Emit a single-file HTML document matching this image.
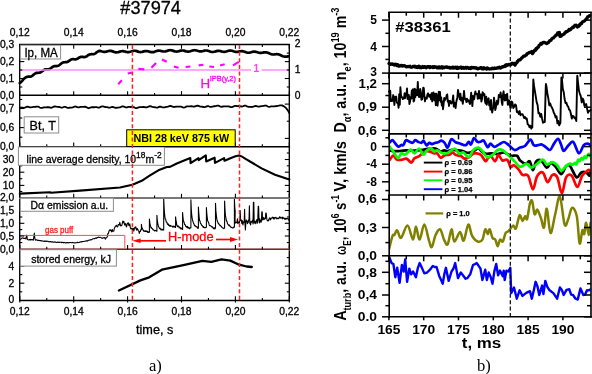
<!DOCTYPE html>
<html><head><meta charset="utf-8"><style>
html,body{margin:0;padding:0;background:#fff;width:592px;height:374px;overflow:hidden}
svg{display:block;will-change:transform}
</style></head><body>
<svg width="592" height="374" viewBox="0 0 592 374">
<rect width="592" height="374" fill="#fff"/>
<text x="120.30" y="13.90" font-family="Liberation Sans, sans-serif" font-size="18.2" font-weight="normal" text-anchor="start" fill="#000" stroke="#000" stroke-width="0.3" >#37974</text>
<text x="19.80" y="36.20" font-family="Liberation Sans, sans-serif" font-size="10.3" font-weight="normal" text-anchor="middle" fill="#000" stroke="#000" stroke-width="0.3" >0,12</text>
<text x="19.80" y="314.80" font-family="Liberation Sans, sans-serif" font-size="10.3" font-weight="normal" text-anchor="middle" fill="#000" stroke="#000" stroke-width="0.3" >0,12</text>
<text x="73.70" y="36.20" font-family="Liberation Sans, sans-serif" font-size="10.3" font-weight="normal" text-anchor="middle" fill="#000" stroke="#000" stroke-width="0.3" >0,14</text>
<text x="73.70" y="314.80" font-family="Liberation Sans, sans-serif" font-size="10.3" font-weight="normal" text-anchor="middle" fill="#000" stroke="#000" stroke-width="0.3" >0,14</text>
<text x="127.60" y="36.20" font-family="Liberation Sans, sans-serif" font-size="10.3" font-weight="normal" text-anchor="middle" fill="#000" stroke="#000" stroke-width="0.3" >0,16</text>
<text x="127.60" y="314.80" font-family="Liberation Sans, sans-serif" font-size="10.3" font-weight="normal" text-anchor="middle" fill="#000" stroke="#000" stroke-width="0.3" >0,16</text>
<text x="181.50" y="36.20" font-family="Liberation Sans, sans-serif" font-size="10.3" font-weight="normal" text-anchor="middle" fill="#000" stroke="#000" stroke-width="0.3" >0,18</text>
<text x="181.50" y="314.80" font-family="Liberation Sans, sans-serif" font-size="10.3" font-weight="normal" text-anchor="middle" fill="#000" stroke="#000" stroke-width="0.3" >0,18</text>
<text x="235.40" y="36.20" font-family="Liberation Sans, sans-serif" font-size="10.3" font-weight="normal" text-anchor="middle" fill="#000" stroke="#000" stroke-width="0.3" >0,20</text>
<text x="235.40" y="314.80" font-family="Liberation Sans, sans-serif" font-size="10.3" font-weight="normal" text-anchor="middle" fill="#000" stroke="#000" stroke-width="0.3" >0,20</text>
<text x="289.30" y="36.20" font-family="Liberation Sans, sans-serif" font-size="10.3" font-weight="normal" text-anchor="middle" fill="#000" stroke="#000" stroke-width="0.3" >0,22</text>
<text x="289.30" y="314.80" font-family="Liberation Sans, sans-serif" font-size="10.3" font-weight="normal" text-anchor="middle" fill="#000" stroke="#000" stroke-width="0.3" >0,22</text>
<path d="M19.80,83.07 L20.60,82.43 L21.40,81.70 L22.20,80.83 L23.00,79.76 L23.80,78.89 L24.60,78.28 L25.40,77.69 L26.20,77.19 L27.00,76.86 L27.80,76.70 L28.60,76.67 L29.40,76.68 L30.20,76.65 L31.00,76.47 L31.80,76.12 L32.60,75.56 L33.40,74.88 L34.20,74.20 L35.00,73.60 L35.80,73.16 L36.60,72.91 L37.40,72.82 L38.20,72.80 L39.00,72.77 L39.80,72.62 L40.60,72.31 L41.40,71.83 L42.20,71.23 L43.00,70.60 L43.80,70.04 L44.60,69.62 L45.40,69.39 L46.20,69.33 L47.00,69.36 L47.80,69.40 L48.60,69.34 L49.40,69.11 L50.20,68.70 L51.00,68.15 L51.80,67.53 L52.60,66.94 L53.40,66.47 L54.20,66.18 L55.00,66.05 L55.80,66.03 L56.60,66.04 L57.40,65.96 L58.20,65.74 L59.00,65.33 L59.80,64.76 L60.60,64.09 L61.40,63.44 L62.20,62.89 L63.00,62.51 L63.80,62.30 L64.60,62.23 L65.40,62.21 L66.20,62.19 L67.00,62.05 L67.80,61.74 L68.60,61.26 L69.40,60.68 L70.20,60.09 L71.00,59.59 L71.80,59.26 L72.60,59.12 L73.40,59.13 L74.20,59.23 L75.00,59.32 L75.80,59.29 L76.60,59.10 L77.40,58.73 L78.20,58.24 L79.00,57.71 L79.80,57.25 L80.60,56.93 L81.40,56.79 L82.20,56.81 L83.00,56.93 L83.80,57.04 L84.60,57.05 L85.40,56.89 L86.20,56.54 L87.00,56.04 L87.80,55.48 L88.60,54.94 L89.40,54.53 L90.20,54.29 L91.00,54.22 L91.80,54.22 L92.60,54.24 L93.40,54.19 L94.20,53.98 L95.00,53.59 L95.80,53.04 L96.60,52.40 L97.40,51.78 L98.20,51.27 L99.00,50.93 L99.80,50.87 L100.60,51.07 L101.40,51.30 L102.20,51.53 L103.00,51.72 L103.80,51.84 L104.60,51.86 L105.40,51.79 L106.20,51.63 L107.00,51.43 L107.80,51.21 L108.60,51.01 L109.40,50.89 L110.20,50.86 L111.00,50.94 L111.80,51.11 L112.60,51.36 L113.40,51.64 L114.20,51.92 L115.00,52.16 L115.80,52.30 L116.60,52.35 L117.40,52.28 L118.20,52.12 L119.00,51.90 L119.80,51.65 L120.60,51.43 L121.40,51.26 L122.20,51.17 L123.00,51.19 L123.80,51.29 L124.60,51.47 L125.40,51.68 L126.20,51.89 L127.00,52.05 L127.80,52.13 L128.60,52.11 L129.40,51.99 L130.20,51.78 L131.00,51.52 L131.80,51.24 L132.60,51.00 L133.40,50.82 L134.20,50.74 L135.00,50.77 L135.80,50.91 L136.60,51.12 L137.40,51.39 L138.20,51.65 L139.00,51.87 L139.80,52.02 L140.60,52.06 L141.40,51.99 L142.20,51.84 L143.00,51.63 L143.80,51.41 L144.60,51.20 L145.40,51.06 L146.20,51.01 L147.00,51.06 L147.80,51.21 L148.60,51.42 L149.40,51.67 L150.20,51.90 L151.00,52.09 L151.80,52.19 L152.60,52.18 L153.40,52.07 L154.20,51.86 L155.00,51.59 L155.80,51.29 L156.60,51.02 L157.40,50.81 L158.20,50.68 L159.00,50.66 L159.80,50.74 L160.60,50.89 L161.40,51.08 L162.20,51.28 L163.00,51.43 L163.80,51.50 L164.60,51.48 L165.40,51.36 L166.20,51.17 L167.00,50.91 L167.80,50.65 L168.60,50.42 L169.40,50.26 L170.20,50.19 L171.00,50.24 L171.80,50.39 L172.60,50.61 L173.40,50.88 L174.20,51.14 L175.00,51.36 L175.80,51.50 L176.60,51.54 L177.40,51.48 L178.20,51.32 L179.00,51.10 L179.80,50.86 L180.60,50.66 L181.40,50.53 L182.20,50.48 L183.00,50.52 L183.80,50.66 L184.60,50.87 L185.40,51.11 L186.20,51.34 L187.00,51.52 L187.80,51.61 L188.60,51.61 L189.40,51.49 L190.20,51.29 L191.00,51.03 L191.80,50.75 L192.60,50.50 L193.40,50.31 L194.20,50.22 L195.00,50.23 L195.80,50.35 L196.60,50.55 L197.40,50.79 L198.20,51.04 L199.00,51.24 L199.80,51.37 L200.60,51.41 L201.40,51.35 L202.20,51.21 L203.00,51.02 L203.80,50.81 L204.60,50.63 L205.40,50.52 L206.20,50.50 L207.00,50.58 L207.80,50.76 L208.60,51.02 L209.40,51.31 L210.20,51.59 L211.00,51.83 L211.80,51.98 L212.60,52.02 L213.40,51.96 L214.20,51.80 L215.00,51.58 L215.80,51.33 L216.60,51.11 L217.40,50.94 L218.20,50.86 L219.00,50.87 L219.80,50.98 L220.60,51.16 L221.40,51.38 L222.20,51.59 L223.00,51.76 L223.80,51.84 L224.60,51.83 L225.40,51.72 L226.20,51.52 L227.00,51.27 L227.80,51.01 L228.60,50.78 L229.40,50.61 L230.20,50.55 L231.00,50.59 L231.80,50.74 L232.60,50.97 L233.40,51.24 L234.20,51.52 L235.00,51.75 L235.80,51.91 L236.60,51.97 L237.40,51.93 L238.20,51.81 L239.00,51.62 L239.80,51.42 L240.60,51.27 L241.40,51.18 L242.20,51.19 L243.00,51.29 L243.80,51.48 L244.60,51.75 L245.40,52.04 L246.20,52.33 L247.00,52.56 L247.80,52.71 L248.60,52.76 L249.40,52.69 L250.20,52.53 L251.00,52.31 L251.80,52.07 L252.60,51.85 L253.40,51.69 L254.20,51.63 L255.00,51.66 L255.80,51.80 L256.60,52.01 L257.40,52.26 L258.20,52.51 L259.00,52.72 L259.80,52.86 L260.60,52.90 L261.40,52.85 L262.20,52.75 L263.00,52.60 L263.80,52.45 L264.60,52.32 L265.40,52.27 L266.20,52.31 L267.00,52.46 L267.80,52.71 L268.60,53.03 L269.40,53.40 L270.20,53.77 L271.00,54.09 L271.80,54.33 L272.60,54.46 L273.40,54.50 L274.20,54.43 L275.00,54.31 L275.80,54.25 L276.60,54.21 L277.40,54.22 L278.20,54.32 L279.00,54.52 L279.80,54.81 L280.60,55.17 L281.40,55.56 L282.20,55.94 L283.00,56.27 L283.80,56.52 L284.60,56.67 L285.40,56.72 L286.20,56.67 L287.00,56.57 L287.80,56.45 L288.60,56.36" fill="none" stroke="#000" stroke-width="2.7" stroke-linejoin="round" stroke-linecap="round" />
<line x1="19.80" y1="70.00" x2="251.00" y2="70.00" stroke="#ff8cff" stroke-width="1.5" />
<line x1="261.50" y1="70.00" x2="289.30" y2="70.00" stroke="#ff8cff" stroke-width="1.5" />
<text x="253.30" y="71.90" font-family="Liberation Sans, sans-serif" font-size="10.6" font-weight="bold" text-anchor="start" fill="#ff44ff" textLength="6.0" lengthAdjust="spacingAndGlyphs" >1</text>
<line x1="118.30" y1="84.30" x2="121.80" y2="80.30" stroke="#ff00ff" stroke-width="2.1" stroke-linecap="butt"/>
<line x1="127.70" y1="73.60" x2="132.50" y2="72.50" stroke="#ff00ff" stroke-width="2.1" stroke-linecap="butt"/>
<line x1="138.40" y1="68.90" x2="144.30" y2="69.40" stroke="#ff00ff" stroke-width="2.1" stroke-linecap="butt"/>
<line x1="151.40" y1="67.70" x2="156.00" y2="63.00" stroke="#ff00ff" stroke-width="2.1" stroke-linecap="butt"/>
<line x1="162.00" y1="59.50" x2="166.70" y2="61.80" stroke="#ff00ff" stroke-width="2.1" stroke-linecap="butt"/>
<line x1="173.80" y1="66.50" x2="178.60" y2="67.70" stroke="#ff00ff" stroke-width="2.1" stroke-linecap="butt"/>
<line x1="185.60" y1="67.00" x2="190.40" y2="66.50" stroke="#ff00ff" stroke-width="2.1" stroke-linecap="butt"/>
<line x1="198.70" y1="65.40" x2="203.40" y2="64.70" stroke="#ff00ff" stroke-width="2.1" stroke-linecap="butt"/>
<line x1="209.30" y1="66.50" x2="214.00" y2="67.00" stroke="#ff00ff" stroke-width="2.1" stroke-linecap="butt"/>
<line x1="220.00" y1="65.40" x2="224.70" y2="64.20" stroke="#ff00ff" stroke-width="2.1" stroke-linecap="butt"/>
<line x1="233.00" y1="65.40" x2="238.80" y2="61.80" stroke="#ff00ff" stroke-width="2.1" stroke-linecap="butt"/>
<text x="200.60" y="87.90" font-family="Liberation Sans, sans-serif" font-size="13.3" font-weight="normal" text-anchor="start" fill="#ff00ff" stroke="#ff00ff" stroke-width="0.3" >H</text>
<text x="209.70" y="81.40" font-family="Liberation Sans, sans-serif" font-size="7.6" font-weight="normal" text-anchor="start" fill="#ff00ff" textLength="26.3" lengthAdjust="spacingAndGlyphs" stroke="#ff00ff" stroke-width="0.3" >IPB(y,2)</text>
<path d="M19.80,107.63 L20.60,107.76 L21.40,107.76 L22.20,107.75 L23.00,107.77 L23.80,107.79 L24.60,107.69 L25.40,107.42 L26.20,107.04 L27.00,106.73 L27.80,106.65 L28.60,106.83 L29.40,107.14 L30.20,107.37 L31.00,107.39 L31.80,107.24 L32.60,107.03 L33.40,106.90 L34.20,106.87 L35.00,106.85 L35.80,106.76 L36.60,106.62 L37.40,106.56 L38.20,106.69 L39.00,107.05 L39.80,107.51 L40.60,107.86 L41.40,107.94 L42.20,107.78 L43.00,107.52 L43.80,107.33 L44.60,107.28 L45.40,107.32 L46.20,107.33 L47.00,107.27 L47.80,107.20 L48.60,107.23 L49.40,107.41 L50.20,107.64 L51.00,107.76 L51.80,107.62 L52.60,107.24 L53.40,106.80 L54.20,106.49 L55.00,106.42 L55.80,106.55 L56.60,106.73 L57.40,106.85 L58.20,106.90 L59.00,106.99 L59.80,107.17 L60.60,107.41 L61.40,107.57 L62.20,107.53 L63.00,107.28 L63.80,106.98 L64.60,106.83 L65.40,106.93 L66.20,107.25 L67.00,107.59 L67.80,107.80 L68.60,107.83 L69.40,107.75 L70.20,107.69 L71.00,107.67 L71.80,107.61 L72.60,107.42 L73.40,107.09 L74.20,106.73 L75.00,106.51 L75.80,106.57 L76.60,106.85 L77.40,107.18 L78.20,107.35 L79.00,107.30 L79.80,107.12 L80.60,106.94 L81.40,106.87 L82.20,106.88 L83.00,106.89 L83.80,106.82 L84.60,106.74 L85.40,106.77 L86.20,107.02 L87.00,107.43 L87.80,107.85 L88.60,108.06 L89.40,107.99 L90.20,107.72 L91.00,107.42 L91.80,107.25 L92.60,107.23 L93.40,107.26 L94.20,107.24 L95.00,107.16 L95.80,107.11 L96.60,107.18 L97.40,107.37 L98.20,107.56 L99.00,107.57 L99.80,107.32 L100.60,106.91 L101.40,106.52 L102.20,106.35 L103.00,106.43 L103.80,106.65 L104.60,106.87 L105.40,107.01 L106.20,107.09 L107.00,107.21 L107.80,107.42 L108.60,107.62 L109.40,107.70 L110.20,107.55 L111.00,107.26 L111.80,106.99 L112.60,106.93 L113.40,107.12 L114.20,107.46 L115.00,107.74 L115.80,107.84 L116.60,107.76 L117.40,107.63 L118.20,107.53 L119.00,107.47 L119.80,107.35 L120.60,107.11 L121.40,106.76 L122.20,106.47 L123.00,106.40 L123.80,106.60 L124.60,106.96 L125.40,107.27 L126.20,107.37 L127.00,107.27 L127.80,107.07 L128.60,106.94 L129.40,106.93 L130.20,106.99 L131.00,107.00 L131.80,106.95 L132.60,106.92 L133.40,107.04 L134.20,107.35 L135.00,107.76 L135.80,108.07 L136.60,108.12 L137.40,107.90 L138.20,107.54 L139.00,107.24 L139.80,107.11 L140.60,107.11 L141.40,107.12 L142.20,107.07 L143.00,106.98 L143.80,106.96 L144.60,107.07 L145.40,107.26 L146.20,107.38 L147.00,107.28 L147.80,106.95 L148.60,106.54 L149.40,106.26 L150.20,106.23 L151.00,106.43 L151.80,106.72 L152.60,106.94 L153.40,107.05 L154.20,107.13 L155.00,107.26 L155.80,107.44 L156.60,107.57 L157.40,107.52 L158.20,107.27 L159.00,106.93 L159.80,106.71 L160.60,106.73 L161.40,106.97 L162.20,107.28 L163.00,107.46 L163.80,107.43 L164.60,107.26 L165.40,107.08 L166.20,106.96 L167.00,106.86 L167.80,106.70 L168.60,106.42 L169.40,106.11 L170.20,105.93 L171.00,106.01 L171.80,106.32 L172.60,106.71 L173.40,106.97 L174.20,106.98 L175.00,106.81 L175.80,106.62 L176.60,106.53 L177.40,106.56 L178.20,106.62 L179.00,106.62 L179.80,106.56 L180.60,106.57 L181.40,106.74 L182.20,107.06 L183.00,107.40 L183.80,107.56 L184.60,107.42 L185.40,107.06 L186.20,106.65 L187.00,106.37 L187.80,106.29 L188.60,106.32 L189.40,106.34 L190.20,106.29 L191.00,106.23 L191.80,106.26 L192.60,106.41 L193.40,106.60 L194.20,106.66 L195.00,106.48 L195.80,106.13 L196.60,105.78 L197.40,105.63 L198.20,105.76 L199.00,106.06 L199.80,106.37 L200.60,106.57 L201.40,106.67 L202.20,106.74 L203.00,106.86 L203.80,107.00 L204.60,107.04 L205.40,106.89 L206.20,106.57 L207.00,106.25 L207.80,106.11 L208.60,106.23 L209.40,106.52 L210.20,106.78 L211.00,106.87 L211.80,106.75 L212.60,106.54 L213.40,106.36 L214.20,106.26 L215.00,106.18 L215.80,106.01 L216.60,105.77 L217.40,105.56 L218.20,105.53 L219.00,105.77 L219.80,106.19 L220.60,106.58 L221.40,106.76 L222.20,106.69 L223.00,106.50 L223.80,106.33 L224.60,106.30 L225.40,106.37 L226.20,106.43 L227.00,106.41 L227.80,106.38 L228.60,106.43 L229.40,106.64 L230.20,106.95 L231.00,107.20 L231.80,107.20 L232.60,106.92 L233.40,106.48 L234.20,106.10 L235.00,105.91 L235.80,105.92 L236.60,106.00 L237.40,106.03 L238.20,106.01 L239.00,106.01 L239.80,106.12 L240.60,106.32 L241.40,106.49 L242.20,106.49 L243.00,106.26 L243.80,105.92 L244.60,105.68 L245.40,105.69 L246.20,105.95 L247.00,106.32 L247.80,106.61 L248.60,106.76 L249.40,106.80 L250.20,106.84 L251.00,106.92 L251.80,106.99 L252.60,106.91 L253.40,106.65 L254.20,106.29 L255.00,106.01 L255.80,105.97 L256.60,106.17 L257.40,106.47 L258.20,106.67 L259.00,106.66 L259.80,106.47 L260.60,106.24 L261.40,106.10 L262.20,106.03 L263.00,105.96 L263.80,105.81 L264.60,105.62 L265.40,105.52 L266.20,105.65 L267.00,106.01 L267.80,106.46 L268.60,106.79 L269.40,106.86 L270.20,106.70 L271.00,106.47 L271.80,106.34 L272.60,106.34 L273.40,106.41 L274.20,106.44 L277.50,106.00 L280.00,105.30 L282.00,105.40 L284.00,106.40 L286.00,108.00 L288.00,110.60 L289.30,113.00" fill="none" stroke="#000" stroke-width="1.8" stroke-linejoin="round" stroke-linecap="round" />
<path d="M19.80,193.60 L50.00,192.30 L51.00,192.80 L80.00,190.60 L120.00,187.50 L132.40,184.80 L141.70,180.80 L150.00,175.40 L158.40,170.30 L166.90,167.00 L170.00,166.90 L176.80,163.50 L183.50,160.80 L190.30,158.00 L190.60,163.10 L198.40,158.10 L198.70,160.20 L205.80,155.40 L206.20,161.50 L214.60,157.70 L215.00,162.90 L224.10,158.10 L224.50,160.80 L231.00,158.00 L235.50,156.20 L239.00,155.40 L242.00,156.60 L246.00,159.20 L250.00,161.50 L261.60,168.40 L275.00,174.80 L289.30,179.50" fill="none" stroke="#000" stroke-width="2.1" stroke-linejoin="round" stroke-linecap="round" />
<path d="M19.80,239.88 L20.30,239.30 L20.80,239.20 L21.30,238.34 L21.80,238.21 L22.30,237.98 L22.80,237.89 L23.30,238.33 L23.80,238.13 L24.30,238.53 L24.80,238.40 L25.30,238.54 L25.80,238.90 L26.30,236.63 L26.80,235.17 L27.30,239.31 L27.80,239.63 L28.30,239.89 L28.80,239.67 L29.30,239.59 L29.80,240.03 L30.30,239.42 L30.80,240.03 L31.30,239.67 L31.80,239.61 L32.30,239.63 L32.80,239.80 L33.30,240.20 L33.80,237.11 L34.30,233.06 L34.80,238.10 L35.30,239.95 L35.80,240.13 L36.30,239.85 L36.80,239.91 L37.30,240.07 L37.80,240.46 L38.30,240.35 L38.80,240.33 L39.30,240.58 L39.80,240.54 L40.30,240.50 L40.80,240.90 L41.30,240.90 L41.80,240.64 L42.30,240.93 L42.80,240.95 L43.30,241.26 L43.80,241.22 L44.30,240.97 L44.80,241.51 L45.30,240.96 L45.80,241.21 L46.30,241.49 L46.80,241.11 L47.30,241.39 L47.80,241.12 L48.30,241.60 L48.80,241.71 L49.30,241.62 L49.80,241.88 L50.30,241.53 L50.80,241.84 L51.30,241.81 L51.80,241.85 L52.30,241.80 L52.80,242.11 L53.30,242.23 L53.80,241.94 L54.30,242.12 L54.80,241.74 L55.30,242.23 L55.80,242.24 L56.30,242.52 L56.80,242.45 L57.30,242.12 L57.80,242.23 L58.30,242.47 L58.80,242.06 L59.30,242.41 L59.80,242.25 L60.30,242.24 L60.80,242.21 L61.30,242.71 L61.80,242.28 L62.30,242.37 L62.80,242.48 L63.30,242.83 L63.80,242.28 L64.30,242.55 L64.80,242.63 L65.30,242.87 L65.80,242.84 L66.30,242.88 L66.80,242.48 L67.30,242.59 L67.80,242.56 L68.30,242.93 L68.80,243.00 L69.30,242.44 L69.80,242.47 L70.30,242.52 L70.80,242.53 L71.30,242.72 L71.80,242.80 L72.30,242.58 L72.80,242.41 L73.30,242.71 L73.80,242.68 L74.30,242.83 L74.80,243.11 L75.30,242.89 L75.80,242.71 L76.30,242.71 L76.80,242.69 L77.30,242.19 L77.80,242.72 L78.30,242.57 L78.80,242.57 L79.30,242.45 L79.80,242.10 L80.30,242.04 L80.80,241.77 L81.30,242.08 L81.80,241.61 L82.30,241.55 L82.80,241.58 L83.30,241.48 L83.80,241.54 L84.30,241.28 L84.80,241.18 L85.30,241.17 L85.80,240.98 L86.30,241.01 L86.80,240.63 L87.30,241.07 L87.80,240.74 L88.30,240.26 L88.80,240.19 L89.30,240.10 L89.80,239.96 L90.30,239.64 L90.80,240.00 L91.30,239.94 L91.80,239.42 L92.30,239.28 L92.80,238.84 L93.30,238.70 L93.80,238.71 L94.30,238.50 L94.80,238.74 L95.30,238.12 L95.80,237.87 L96.30,238.36 L96.80,237.91 L97.30,237.49 L97.80,237.61 L98.30,237.10 L98.80,237.29 L99.30,237.45 L99.80,237.22 L100.30,237.30 L100.80,237.43 L101.30,237.94 L101.80,238.02 L102.30,238.32 L102.80,238.02 L103.30,238.07 L103.80,237.63 L104.30,237.43 L104.80,237.72 L105.30,239.11 L105.80,238.24 L106.30,237.72 L106.80,237.44 L107.30,236.65 L107.80,233.57 L108.30,233.70 L108.80,232.02 L109.30,230.28 L109.80,229.84 L110.30,230.41 L110.80,229.89 L111.30,231.18 L111.80,231.80 L112.30,229.49 L112.80,231.28 L113.30,231.32 L113.80,231.02 L114.30,228.49 L114.80,227.35 L115.30,226.71 L115.80,225.92 L116.30,225.28 L116.80,226.30 L117.30,226.98 L117.80,226.33 L118.30,224.47 L118.80,224.75 L119.30,225.03 L119.80,222.33 L120.30,224.79 L120.80,225.95 L121.30,225.60 L121.80,225.40 L122.30,223.31 L122.80,221.11 L123.30,222.56 L123.80,221.36 L124.30,223.85 L124.80,225.16 L125.30,223.48 L125.80,224.13 L126.30,226.94 L126.80,226.10 L127.30,223.55 L127.80,223.04 L128.30,222.80 L128.80,225.49 L129.30,225.69 L129.80,223.88 L130.30,227.44 L130.80,228.89 L131.30,228.43 L131.80,228.20 L132.30,229.99 L132.80,229.32 L133.30,228.26 L133.80,231.08 L134.30,228.80 L134.80,227.31 L135.30,227.93 L135.80,226.79 L136.30,229.39 L136.80,230.05 L137.30,228.44 L137.80,229.46 L138.30,230.47 L138.80,231.11 L139.30,233.35 L139.80,231.45 L140.30,231.50 L140.80,229.76 L141.40,229.76 L141.40,224.40 L141.80,227.50 L142.20,228.04 L142.60,229.10 L143.00,229.90 L143.40,230.83 L143.80,230.39 L144.20,231.44 L144.60,230.99 L145.00,231.23 L145.40,231.37 L145.80,230.70 L146.20,231.50 L146.60,231.19 L147.00,231.00 L147.40,232.36 L147.80,231.43 L148.20,231.97 L148.60,232.43 L149.00,232.21 L149.40,232.21 L149.40,219.00 L149.80,222.50 L150.20,225.01 L150.60,226.45 L151.00,227.73 L151.40,227.30 L151.80,228.53 L152.20,228.43 L152.60,228.81 L153.00,229.89 L153.40,229.71 L153.80,230.01 L154.20,230.52 L154.60,230.93 L155.00,230.32 L155.40,230.72 L155.80,230.66 L156.20,230.77 L156.60,231.15 L156.90,231.15 L156.90,215.30 L157.30,220.12 L157.70,223.11 L158.10,224.80 L158.50,226.73 L158.90,227.19 L159.30,228.13 L159.70,228.75 L160.10,228.10 L160.50,228.95 L160.90,229.88 L161.30,229.99 L161.70,229.11 L162.10,229.30 L162.50,230.00 L162.90,229.57 L163.30,229.99 L163.70,229.99 L163.70,198.20 L164.10,206.98 L164.50,213.35 L164.90,216.81 L165.30,219.12 L165.70,219.41 L166.10,221.41 L166.50,222.18 L166.90,222.07 L167.30,223.85 L167.70,224.50 L168.10,223.75 L168.50,225.32 L168.90,224.77 L169.30,225.22 L169.70,226.29 L170.10,226.27 L170.50,225.41 L170.90,226.02 L171.30,226.32 L171.70,226.18 L172.10,226.07 L172.50,226.38 L172.90,227.12 L173.30,226.08 L173.70,227.02 L174.10,226.90 L174.50,226.28 L174.90,226.84 L175.30,227.35 L175.60,227.35 L175.60,216.90 L176.00,220.73 L176.40,222.24 L176.80,225.09 L177.20,225.70 L177.60,226.66 L178.00,225.78 L178.40,226.44 L178.80,226.42 L179.20,227.89 L179.60,227.32 L180.00,227.31 L180.40,227.97 L180.80,228.92 L181.20,228.92 L181.60,228.15 L182.00,228.09 L182.40,229.42 L182.60,229.42 L182.60,212.60 L183.00,217.67 L183.40,220.77 L183.80,221.60 L184.20,222.75 L184.60,224.62 L185.00,224.86 L185.40,224.82 L185.80,226.65 L186.20,226.53 L186.60,227.12 L187.00,226.26 L187.40,227.74 L187.80,226.69 L188.20,228.15 L188.60,227.67 L189.00,227.63 L189.40,228.11 L189.80,228.82 L190.20,227.87 L190.60,227.73 L190.90,227.73 L190.90,199.80 L191.30,209.50 L191.70,214.56 L192.10,217.68 L192.50,219.91 L192.90,221.23 L193.30,222.58 L193.70,223.62 L194.10,224.32 L194.50,225.65 L194.90,225.42 L195.30,226.20 L195.70,226.08 L196.10,226.69 L196.50,226.47 L196.90,227.11 L197.30,226.96 L197.70,228.32 L198.10,228.21 L198.40,228.21 L198.40,207.00 L198.80,213.15 L199.20,217.49 L199.60,220.65 L200.00,220.93 L200.40,223.23 L200.80,223.49 L201.20,224.30 L201.60,225.44 L202.00,225.23 L202.40,225.85 L202.80,226.51 L203.20,227.31 L203.60,226.58 L204.00,227.62 L204.40,227.64 L204.80,227.73 L205.20,227.53 L205.60,227.60 L206.00,227.26 L206.40,227.26 L206.40,207.60 L206.80,213.47 L207.20,217.16 L207.60,220.58 L208.00,221.38 L208.40,222.35 L208.80,223.08 L209.20,224.98 L209.60,225.60 L210.00,225.77 L210.40,225.57 L210.80,225.88 L211.20,226.28 L211.60,226.83 L212.00,226.59 L212.40,227.27 L212.80,227.17 L213.20,228.46 L213.60,228.63 L214.00,228.08 L214.40,227.71 L214.80,228.97 L215.20,228.01 L215.50,228.01 L215.50,203.40 L215.90,210.90 L216.30,214.86 L216.70,218.28 L217.10,220.31 L217.50,221.70 L217.90,222.24 L218.30,223.55 L218.70,223.44 L219.10,224.44 L219.50,224.66 L219.90,225.59 L220.30,225.41 L220.70,225.71 L221.10,226.46 L221.50,226.61 L221.90,227.40 L222.30,227.52 L222.70,228.05 L223.10,228.06 L223.50,228.29 L223.90,228.68 L224.30,228.00 L224.60,228.00 L224.60,201.00 L225.00,209.30 L225.40,215.33 L225.80,217.04 L226.20,219.97 L226.60,221.25 L227.00,221.36 L227.40,223.48 L227.80,224.27 L228.20,224.45 L228.60,225.13 L229.00,225.70 L229.40,225.02 L229.80,225.98 L230.20,226.25 L230.60,227.04 L231.00,227.23 L231.40,227.47 L231.80,227.26 L232.20,227.92 L232.60,227.73 L233.00,227.87 L233.40,227.24 L233.80,227.02 L234.20,227.27 L234.40,227.27 L234.40,199.20 L234.80,207.22 L235.20,211.61 L235.00,223.51 L235.40,221.89 L235.80,222.34 L236.20,222.37 L236.60,222.73 L237.00,221.64 L237.40,218.81 L237.80,223.53 L238.20,223.28 L238.60,221.88 L239.00,222.11 L239.40,222.87 L239.80,219.46 L240.20,210.60 L240.60,220.60 L241.00,219.60 L241.40,220.72 L241.80,223.40 L242.20,220.43 L242.60,223.50 L243.00,224.85 L243.40,222.14 L243.80,221.50 L244.20,222.09 L244.60,209.40 L245.00,223.75 L245.40,229.90 L245.80,223.08 L246.20,219.96 L246.60,220.38 L247.00,220.99 L247.40,223.71 L247.80,221.32 L248.20,222.78 L248.60,219.77 L249.00,220.06 L249.40,205.80 L249.80,223.42 L250.20,223.50 L250.60,225.00 L251.00,221.18 L251.40,222.31 L251.80,221.95 L252.20,221.88 L252.60,219.96 L253.00,223.98 L253.40,202.20 L253.80,202.20 L254.20,223.00 L254.60,223.00 L255.00,221.29 L255.40,223.08 L255.80,223.76 L256.20,221.00 L256.60,219.99 L257.00,219.61 L257.40,223.29 L257.80,219.47 L258.20,206.40 L258.60,206.40 L259.00,220.82 L259.40,222.89 L259.80,218.70 L260.20,222.06 L260.60,220.42 L261.00,222.22 L261.40,221.23 L261.80,211.80 L262.20,211.80 L262.60,219.91 L263.00,217.58 L263.40,217.41 L263.80,219.70 L264.20,219.42 L264.60,218.63 L265.00,217.78 L265.40,218.69 L265.80,213.00 L266.20,213.00 L266.60,217.06 L267.00,220.13 L267.40,220.37 L267.80,221.00 L268.20,221.00 L268.60,219.54 L269.00,220.08 L269.40,217.93 L269.80,218.14 L270.20,218.16 L270.60,219.88 L271.00,218.64 L271.40,218.00 L271.80,218.14 L272.20,217.74 L272.60,217.17 L273.00,217.26 L273.40,218.95 L273.80,217.62 L274.20,219.09 L274.60,217.46 L275.00,217.46 L275.40,217.99 L275.80,217.22 L276.20,217.59 L276.60,218.86 L277.00,218.66 L277.40,218.45 L277.80,218.01 L278.20,218.58 L278.60,218.60 L279.00,217.71 L279.40,218.03 L279.80,216.56 L280.20,218.03 L280.60,217.53 L281.00,218.24 L281.40,218.10 L281.80,217.45 L282.20,217.05 L282.60,218.93 L283.00,217.39 L283.40,218.18 L283.80,218.01 L284.20,218.00 L284.60,218.96 L285.00,219.50 L285.40,218.20 L285.80,219.05 L286.20,218.45 L286.60,219.03 L287.00,218.81 L287.40,218.47 L287.80,218.55 L288.20,218.73 L288.60,220.09 L289.00,219.43" fill="none" stroke="#000" stroke-width="1.1" stroke-linejoin="round" stroke-linecap="round" stroke-linejoin="miter"/>
<path d="M118.90,290.50 L140.40,280.40 L149.20,277.30 L161.90,269.70 L183.40,265.20 L202.40,260.90 L211.30,261.90 L221.40,259.40 L230.30,260.60 L239.10,264.70 L246.70,266.50 L251.80,267.00" fill="none" stroke="#000" stroke-width="2.3" stroke-linejoin="round" stroke-linecap="round" />
<polyline points="19.8,249.3 19.8,235.4 124.8,235.4 124.8,249.3" fill="none" stroke="#ff4a4a" stroke-width="1.0"/>
<text x="45.00" y="232.80" font-family="Liberation Sans, sans-serif" font-size="8.3" font-weight="normal" text-anchor="start" fill="#ff2020" textLength="28.3" lengthAdjust="spacingAndGlyphs" stroke="#ff2020" stroke-width="0.3" >gas puff</text>
<text x="168.00" y="241.00" font-family="Liberation Sans, sans-serif" font-size="13.4" font-weight="normal" text-anchor="start" fill="#ff0000" textLength="45.6" lengthAdjust="spacingAndGlyphs" stroke="#ff0000" stroke-width="0.3" >H-mode</text>
<line x1="139.00" y1="240.80" x2="166.00" y2="240.80" stroke="#ff0000" stroke-width="1.7" />
<polygon points="132.2,240.8 140.6,238.5 140.6,243.1" fill="#ff0000"/>
<line x1="216.00" y1="239.50" x2="231.00" y2="239.50" stroke="#ff0000" stroke-width="1.7" />
<polygon points="238,239.5 230,236.9 230,242.1" fill="#ff0000"/>
<line x1="19.00" y1="44.60" x2="290.10" y2="44.60" stroke="#000" stroke-width="1.5" />
<line x1="19.00" y1="95.35" x2="290.10" y2="95.35" stroke="#000" stroke-width="1.5" />
<line x1="19.00" y1="146.70" x2="290.10" y2="146.70" stroke="#000" stroke-width="1.5" />
<line x1="19.00" y1="198.00" x2="290.10" y2="198.00" stroke="#000" stroke-width="1.5" />
<line x1="19.00" y1="249.20" x2="290.10" y2="249.20" stroke="#000" stroke-width="1.5" />
<line x1="19.00" y1="300.40" x2="290.10" y2="300.40" stroke="#000" stroke-width="1.5" />
<line x1="19.70" y1="43.90" x2="19.70" y2="301.10" stroke="#000" stroke-width="1.35" />
<line x1="289.30" y1="43.90" x2="289.30" y2="301.10" stroke="#000" stroke-width="1.35" />
<line x1="19.00" y1="249.20" x2="290.10" y2="249.20" stroke="#fff" stroke-width="1.9" />
<line x1="19.00" y1="249.20" x2="290.10" y2="249.20" stroke="#8a1c1c" stroke-width="1.35" />
<line x1="19.00" y1="198.00" x2="290.10" y2="198.00" stroke="#fff" stroke-width="1.9" />
<line x1="19.00" y1="198.00" x2="290.10" y2="198.00" stroke="#4a4a4a" stroke-width="1.7" />
<line x1="19.80" y1="44.60" x2="19.80" y2="48.80" stroke="#000" stroke-width="1.1" />
<line x1="19.80" y1="95.35" x2="19.80" y2="91.15" stroke="#000" stroke-width="1.1" />
<line x1="19.80" y1="146.70" x2="19.80" y2="142.50" stroke="#000" stroke-width="1.1" />
<line x1="19.80" y1="198.00" x2="19.80" y2="193.80" stroke="#000" stroke-width="1.1" />
<line x1="19.80" y1="249.20" x2="19.80" y2="245.00" stroke="#000" stroke-width="1.1" />
<line x1="19.80" y1="300.40" x2="19.80" y2="296.20" stroke="#000" stroke-width="1.1" />
<line x1="19.80" y1="300.40" x2="19.80" y2="302.40" stroke="#000" stroke-width="1.1" />
<line x1="46.75" y1="44.60" x2="46.75" y2="47.00" stroke="#000" stroke-width="1.1" />
<line x1="46.75" y1="95.35" x2="46.75" y2="92.95" stroke="#000" stroke-width="1.1" />
<line x1="46.75" y1="146.70" x2="46.75" y2="144.30" stroke="#000" stroke-width="1.1" />
<line x1="46.75" y1="198.00" x2="46.75" y2="195.60" stroke="#000" stroke-width="1.1" />
<line x1="46.75" y1="249.20" x2="46.75" y2="246.80" stroke="#000" stroke-width="1.1" />
<line x1="46.75" y1="300.40" x2="46.75" y2="298.00" stroke="#000" stroke-width="1.1" />
<line x1="73.70" y1="44.60" x2="73.70" y2="48.80" stroke="#000" stroke-width="1.1" />
<line x1="73.70" y1="95.35" x2="73.70" y2="91.15" stroke="#000" stroke-width="1.1" />
<line x1="73.70" y1="146.70" x2="73.70" y2="142.50" stroke="#000" stroke-width="1.1" />
<line x1="73.70" y1="198.00" x2="73.70" y2="193.80" stroke="#000" stroke-width="1.1" />
<line x1="73.70" y1="249.20" x2="73.70" y2="245.00" stroke="#000" stroke-width="1.1" />
<line x1="73.70" y1="300.40" x2="73.70" y2="296.20" stroke="#000" stroke-width="1.1" />
<line x1="73.70" y1="300.40" x2="73.70" y2="302.40" stroke="#000" stroke-width="1.1" />
<line x1="100.65" y1="44.60" x2="100.65" y2="47.00" stroke="#000" stroke-width="1.1" />
<line x1="100.65" y1="95.35" x2="100.65" y2="92.95" stroke="#000" stroke-width="1.1" />
<line x1="100.65" y1="146.70" x2="100.65" y2="144.30" stroke="#000" stroke-width="1.1" />
<line x1="100.65" y1="198.00" x2="100.65" y2="195.60" stroke="#000" stroke-width="1.1" />
<line x1="100.65" y1="249.20" x2="100.65" y2="246.80" stroke="#000" stroke-width="1.1" />
<line x1="100.65" y1="300.40" x2="100.65" y2="298.00" stroke="#000" stroke-width="1.1" />
<line x1="127.60" y1="44.60" x2="127.60" y2="48.80" stroke="#000" stroke-width="1.1" />
<line x1="127.60" y1="95.35" x2="127.60" y2="91.15" stroke="#000" stroke-width="1.1" />
<line x1="127.60" y1="146.70" x2="127.60" y2="142.50" stroke="#000" stroke-width="1.1" />
<line x1="127.60" y1="198.00" x2="127.60" y2="193.80" stroke="#000" stroke-width="1.1" />
<line x1="127.60" y1="249.20" x2="127.60" y2="245.00" stroke="#000" stroke-width="1.1" />
<line x1="127.60" y1="300.40" x2="127.60" y2="296.20" stroke="#000" stroke-width="1.1" />
<line x1="127.60" y1="300.40" x2="127.60" y2="302.40" stroke="#000" stroke-width="1.1" />
<line x1="154.55" y1="44.60" x2="154.55" y2="47.00" stroke="#000" stroke-width="1.1" />
<line x1="154.55" y1="95.35" x2="154.55" y2="92.95" stroke="#000" stroke-width="1.1" />
<line x1="154.55" y1="146.70" x2="154.55" y2="144.30" stroke="#000" stroke-width="1.1" />
<line x1="154.55" y1="198.00" x2="154.55" y2="195.60" stroke="#000" stroke-width="1.1" />
<line x1="154.55" y1="249.20" x2="154.55" y2="246.80" stroke="#000" stroke-width="1.1" />
<line x1="154.55" y1="300.40" x2="154.55" y2="298.00" stroke="#000" stroke-width="1.1" />
<line x1="181.50" y1="44.60" x2="181.50" y2="48.80" stroke="#000" stroke-width="1.1" />
<line x1="181.50" y1="95.35" x2="181.50" y2="91.15" stroke="#000" stroke-width="1.1" />
<line x1="181.50" y1="146.70" x2="181.50" y2="142.50" stroke="#000" stroke-width="1.1" />
<line x1="181.50" y1="198.00" x2="181.50" y2="193.80" stroke="#000" stroke-width="1.1" />
<line x1="181.50" y1="249.20" x2="181.50" y2="245.00" stroke="#000" stroke-width="1.1" />
<line x1="181.50" y1="300.40" x2="181.50" y2="296.20" stroke="#000" stroke-width="1.1" />
<line x1="181.50" y1="300.40" x2="181.50" y2="302.40" stroke="#000" stroke-width="1.1" />
<line x1="208.45" y1="44.60" x2="208.45" y2="47.00" stroke="#000" stroke-width="1.1" />
<line x1="208.45" y1="95.35" x2="208.45" y2="92.95" stroke="#000" stroke-width="1.1" />
<line x1="208.45" y1="146.70" x2="208.45" y2="144.30" stroke="#000" stroke-width="1.1" />
<line x1="208.45" y1="198.00" x2="208.45" y2="195.60" stroke="#000" stroke-width="1.1" />
<line x1="208.45" y1="249.20" x2="208.45" y2="246.80" stroke="#000" stroke-width="1.1" />
<line x1="208.45" y1="300.40" x2="208.45" y2="298.00" stroke="#000" stroke-width="1.1" />
<line x1="235.40" y1="44.60" x2="235.40" y2="48.80" stroke="#000" stroke-width="1.1" />
<line x1="235.40" y1="95.35" x2="235.40" y2="91.15" stroke="#000" stroke-width="1.1" />
<line x1="235.40" y1="146.70" x2="235.40" y2="142.50" stroke="#000" stroke-width="1.1" />
<line x1="235.40" y1="198.00" x2="235.40" y2="193.80" stroke="#000" stroke-width="1.1" />
<line x1="235.40" y1="249.20" x2="235.40" y2="245.00" stroke="#000" stroke-width="1.1" />
<line x1="235.40" y1="300.40" x2="235.40" y2="296.20" stroke="#000" stroke-width="1.1" />
<line x1="235.40" y1="300.40" x2="235.40" y2="302.40" stroke="#000" stroke-width="1.1" />
<line x1="262.35" y1="44.60" x2="262.35" y2="47.00" stroke="#000" stroke-width="1.1" />
<line x1="262.35" y1="95.35" x2="262.35" y2="92.95" stroke="#000" stroke-width="1.1" />
<line x1="262.35" y1="146.70" x2="262.35" y2="144.30" stroke="#000" stroke-width="1.1" />
<line x1="262.35" y1="198.00" x2="262.35" y2="195.60" stroke="#000" stroke-width="1.1" />
<line x1="262.35" y1="249.20" x2="262.35" y2="246.80" stroke="#000" stroke-width="1.1" />
<line x1="262.35" y1="300.40" x2="262.35" y2="298.00" stroke="#000" stroke-width="1.1" />
<line x1="289.30" y1="44.60" x2="289.30" y2="48.80" stroke="#000" stroke-width="1.1" />
<line x1="289.30" y1="95.35" x2="289.30" y2="91.15" stroke="#000" stroke-width="1.1" />
<line x1="289.30" y1="146.70" x2="289.30" y2="142.50" stroke="#000" stroke-width="1.1" />
<line x1="289.30" y1="198.00" x2="289.30" y2="193.80" stroke="#000" stroke-width="1.1" />
<line x1="289.30" y1="249.20" x2="289.30" y2="245.00" stroke="#000" stroke-width="1.1" />
<line x1="289.30" y1="300.40" x2="289.30" y2="296.20" stroke="#000" stroke-width="1.1" />
<line x1="289.30" y1="300.40" x2="289.30" y2="302.40" stroke="#000" stroke-width="1.1" />
<line x1="19.80" y1="61.60" x2="24.30" y2="61.60" stroke="#000" stroke-width="1.1" />
<line x1="284.80" y1="61.60" x2="289.30" y2="61.60" stroke="#000" stroke-width="1.1" />
<line x1="19.80" y1="78.50" x2="24.30" y2="78.50" stroke="#000" stroke-width="1.1" />
<line x1="284.80" y1="78.50" x2="289.30" y2="78.50" stroke="#000" stroke-width="1.1" />
<line x1="19.80" y1="53.10" x2="22.30" y2="53.10" stroke="#000" stroke-width="1.1" />
<line x1="286.80" y1="53.10" x2="289.30" y2="53.10" stroke="#000" stroke-width="1.1" />
<line x1="19.80" y1="70.00" x2="22.30" y2="70.00" stroke="#000" stroke-width="1.1" />
<line x1="286.80" y1="70.00" x2="289.30" y2="70.00" stroke="#000" stroke-width="1.1" />
<line x1="19.80" y1="87.00" x2="22.30" y2="87.00" stroke="#000" stroke-width="1.1" />
<line x1="286.80" y1="87.00" x2="289.30" y2="87.00" stroke="#000" stroke-width="1.1" />
<line x1="19.80" y1="108.50" x2="24.30" y2="108.50" stroke="#000" stroke-width="1.1" />
<line x1="19.80" y1="127.60" x2="24.30" y2="127.60" stroke="#000" stroke-width="1.1" />
<line x1="19.80" y1="99.50" x2="22.30" y2="99.50" stroke="#000" stroke-width="1.1" />
<line x1="19.80" y1="118.00" x2="22.30" y2="118.00" stroke="#000" stroke-width="1.1" />
<line x1="19.80" y1="137.20" x2="22.30" y2="137.20" stroke="#000" stroke-width="1.1" />
<line x1="284.80" y1="104.10" x2="289.30" y2="104.10" stroke="#000" stroke-width="1.1" />
<line x1="284.80" y1="138.40" x2="289.30" y2="138.40" stroke="#000" stroke-width="1.1" />
<line x1="286.80" y1="121.20" x2="289.30" y2="121.20" stroke="#000" stroke-width="1.1" />
<line x1="19.80" y1="159.50" x2="24.30" y2="159.50" stroke="#000" stroke-width="1.1" />
<line x1="284.80" y1="159.50" x2="289.30" y2="159.50" stroke="#000" stroke-width="1.1" />
<line x1="19.80" y1="172.20" x2="24.30" y2="172.20" stroke="#000" stroke-width="1.1" />
<line x1="284.80" y1="172.20" x2="289.30" y2="172.20" stroke="#000" stroke-width="1.1" />
<line x1="19.80" y1="185.40" x2="24.30" y2="185.40" stroke="#000" stroke-width="1.1" />
<line x1="284.80" y1="185.40" x2="289.30" y2="185.40" stroke="#000" stroke-width="1.1" />
<line x1="19.80" y1="153.00" x2="22.30" y2="153.00" stroke="#000" stroke-width="1.1" />
<line x1="286.80" y1="153.00" x2="289.30" y2="153.00" stroke="#000" stroke-width="1.1" />
<line x1="19.80" y1="165.80" x2="22.30" y2="165.80" stroke="#000" stroke-width="1.1" />
<line x1="286.80" y1="165.80" x2="289.30" y2="165.80" stroke="#000" stroke-width="1.1" />
<line x1="19.80" y1="178.70" x2="22.30" y2="178.70" stroke="#000" stroke-width="1.1" />
<line x1="286.80" y1="178.70" x2="289.30" y2="178.70" stroke="#000" stroke-width="1.1" />
<line x1="19.80" y1="191.50" x2="22.30" y2="191.50" stroke="#000" stroke-width="1.1" />
<line x1="286.80" y1="191.50" x2="289.30" y2="191.50" stroke="#000" stroke-width="1.1" />
<line x1="19.80" y1="210.50" x2="24.30" y2="210.50" stroke="#000" stroke-width="1.1" />
<line x1="284.80" y1="210.50" x2="289.30" y2="210.50" stroke="#000" stroke-width="1.1" />
<line x1="19.80" y1="223.30" x2="24.30" y2="223.30" stroke="#000" stroke-width="1.1" />
<line x1="284.80" y1="223.30" x2="289.30" y2="223.30" stroke="#000" stroke-width="1.1" />
<line x1="19.80" y1="236.00" x2="24.30" y2="236.00" stroke="#000" stroke-width="1.1" />
<line x1="284.80" y1="236.00" x2="289.30" y2="236.00" stroke="#000" stroke-width="1.1" />
<line x1="19.80" y1="204.00" x2="22.30" y2="204.00" stroke="#000" stroke-width="1.1" />
<line x1="286.80" y1="204.00" x2="289.30" y2="204.00" stroke="#000" stroke-width="1.1" />
<line x1="19.80" y1="217.00" x2="22.30" y2="217.00" stroke="#000" stroke-width="1.1" />
<line x1="286.80" y1="217.00" x2="289.30" y2="217.00" stroke="#000" stroke-width="1.1" />
<line x1="19.80" y1="229.60" x2="22.30" y2="229.60" stroke="#000" stroke-width="1.1" />
<line x1="286.80" y1="229.60" x2="289.30" y2="229.60" stroke="#000" stroke-width="1.1" />
<line x1="19.80" y1="242.60" x2="22.30" y2="242.60" stroke="#000" stroke-width="1.1" />
<line x1="286.80" y1="242.60" x2="289.30" y2="242.60" stroke="#000" stroke-width="1.1" />
<line x1="19.80" y1="266.10" x2="24.30" y2="266.10" stroke="#000" stroke-width="1.1" />
<line x1="284.80" y1="266.10" x2="289.30" y2="266.10" stroke="#000" stroke-width="1.1" />
<line x1="19.80" y1="283.20" x2="24.30" y2="283.20" stroke="#000" stroke-width="1.1" />
<line x1="284.80" y1="283.20" x2="289.30" y2="283.20" stroke="#000" stroke-width="1.1" />
<line x1="19.80" y1="257.60" x2="22.30" y2="257.60" stroke="#000" stroke-width="1.1" />
<line x1="286.80" y1="257.60" x2="289.30" y2="257.60" stroke="#000" stroke-width="1.1" />
<line x1="19.80" y1="274.60" x2="22.30" y2="274.60" stroke="#000" stroke-width="1.1" />
<line x1="286.80" y1="274.60" x2="289.30" y2="274.60" stroke="#000" stroke-width="1.1" />
<line x1="19.80" y1="291.80" x2="22.30" y2="291.80" stroke="#000" stroke-width="1.1" />
<line x1="286.80" y1="291.80" x2="289.30" y2="291.80" stroke="#000" stroke-width="1.1" />
<rect x="20.3" y="45.2" width="40.3" height="13.8" fill="#fff" stroke="#8c8c8c" stroke-width="1.0"/>
<text x="24.40" y="57.20" font-family="Liberation Sans, sans-serif" font-size="12.0" font-weight="normal" text-anchor="start" fill="#000" textLength="33.4" lengthAdjust="spacingAndGlyphs" stroke="#000" stroke-width="0.3" >Ip, MA</text>
<rect x="24.2" y="116.8" width="34.5" height="16.2" fill="#fff" stroke="#8c8c8c" stroke-width="1.0"/>
<text x="29.60" y="130.30" font-family="Liberation Sans, sans-serif" font-size="12.2" font-weight="normal" text-anchor="start" fill="#000" textLength="26.2" lengthAdjust="spacingAndGlyphs" stroke="#000" stroke-width="0.3" >Bt, T</text>
<rect x="18.4" y="147.0" width="146.0" height="18.3" fill="#fff" stroke="#8c8c8c" stroke-width="1.0"/>
<text x="26.6" y="162.6" font-family="Liberation Sans, sans-serif" font-size="10.5" fill="#000" stroke="#000" stroke-width="0.3"><tspan textLength="109.5" lengthAdjust="spacingAndGlyphs">line average density, 10</tspan><tspan dy="-5" font-size="8.4">18</tspan><tspan dy="5">m</tspan><tspan dy="-5" font-size="8.4">-2</tspan></text>
<rect x="20.3" y="198.2" width="93.1" height="13.1" fill="#fff" stroke="#8c8c8c" stroke-width="1.0"/>
<text x="30.60" y="209.20" font-family="Liberation Sans, sans-serif" font-size="10.3" font-weight="normal" text-anchor="start" fill="#000" textLength="77.6" lengthAdjust="spacingAndGlyphs" stroke="#000" stroke-width="0.3" >D&#945; emission a.u.</text>
<rect x="20.3" y="249.7" width="96.1" height="16.4" fill="#fff" stroke="#8c8c8c" stroke-width="1.0"/>
<text x="31.20" y="263.30" font-family="Liberation Sans, sans-serif" font-size="10.3" font-weight="normal" text-anchor="start" fill="#000" textLength="79.8" lengthAdjust="spacingAndGlyphs" stroke="#000" stroke-width="0.3" >stored energy, kJ</text>
<rect x="126.7" y="129.8" width="108.5" height="16.7" fill="#ffff00" stroke="#000" stroke-width="1.0"/>
<text x="133.40" y="142.20" font-family="Liberation Sans, sans-serif" font-size="10.6" font-weight="bold" text-anchor="start" fill="#000" textLength="95.7" lengthAdjust="spacingAndGlyphs" >NBI 28 keV 875 kW</text>
<text x="14.20" y="47.90" font-family="Liberation Sans, sans-serif" font-size="10.3" font-weight="normal" text-anchor="end" fill="#000" stroke="#000" stroke-width="0.3" >0,3</text>
<text x="14.20" y="65.00" font-family="Liberation Sans, sans-serif" font-size="10.3" font-weight="normal" text-anchor="end" fill="#000" stroke="#000" stroke-width="0.3" >0,2</text>
<text x="14.20" y="82.00" font-family="Liberation Sans, sans-serif" font-size="10.3" font-weight="normal" text-anchor="end" fill="#000" stroke="#000" stroke-width="0.3" >0,1</text>
<text x="14.20" y="99.20" font-family="Liberation Sans, sans-serif" font-size="10.3" font-weight="normal" text-anchor="end" fill="#000" stroke="#000" stroke-width="0.3" >0,0</text>
<text x="14.20" y="111.70" font-family="Liberation Sans, sans-serif" font-size="10.3" font-weight="normal" text-anchor="end" fill="#000" stroke="#000" stroke-width="0.3" >0,7</text>
<text x="14.20" y="131.30" font-family="Liberation Sans, sans-serif" font-size="10.3" font-weight="normal" text-anchor="end" fill="#000" stroke="#000" stroke-width="0.3" >0,6</text>
<text x="14.20" y="150.20" font-family="Liberation Sans, sans-serif" font-size="10.3" font-weight="normal" text-anchor="end" fill="#000" stroke="#000" stroke-width="0.3" >0,0</text>
<text x="14.20" y="163.20" font-family="Liberation Sans, sans-serif" font-size="10.3" font-weight="normal" text-anchor="end" fill="#000" stroke="#000" stroke-width="0.3" >30</text>
<text x="14.20" y="175.70" font-family="Liberation Sans, sans-serif" font-size="10.3" font-weight="normal" text-anchor="end" fill="#000" stroke="#000" stroke-width="0.3" >20</text>
<text x="14.20" y="189.10" font-family="Liberation Sans, sans-serif" font-size="10.3" font-weight="normal" text-anchor="end" fill="#000" stroke="#000" stroke-width="0.3" >10</text>
<text x="14.20" y="201.30" font-family="Liberation Sans, sans-serif" font-size="10.3" font-weight="normal" text-anchor="end" fill="#000" stroke="#000" stroke-width="0.3" >2,0</text>
<text x="14.20" y="214.00" font-family="Liberation Sans, sans-serif" font-size="10.3" font-weight="normal" text-anchor="end" fill="#000" stroke="#000" stroke-width="0.3" >1,5</text>
<text x="14.20" y="227.20" font-family="Liberation Sans, sans-serif" font-size="10.3" font-weight="normal" text-anchor="end" fill="#000" stroke="#000" stroke-width="0.3" >1,0</text>
<text x="14.20" y="239.70" font-family="Liberation Sans, sans-serif" font-size="10.3" font-weight="normal" text-anchor="end" fill="#000" stroke="#000" stroke-width="0.3" >0,5</text>
<text x="14.20" y="253.30" font-family="Liberation Sans, sans-serif" font-size="10.3" font-weight="normal" text-anchor="end" fill="#000" stroke="#000" stroke-width="0.3" >0,0</text>
<text x="14.20" y="269.70" font-family="Liberation Sans, sans-serif" font-size="10.3" font-weight="normal" text-anchor="end" fill="#000" stroke="#000" stroke-width="0.3" >4</text>
<text x="14.20" y="286.70" font-family="Liberation Sans, sans-serif" font-size="10.3" font-weight="normal" text-anchor="end" fill="#000" stroke="#000" stroke-width="0.3" >2</text>
<text x="14.20" y="303.20" font-family="Liberation Sans, sans-serif" font-size="10.3" font-weight="normal" text-anchor="end" fill="#000" stroke="#000" stroke-width="0.3" >0</text>
<text x="294.80" y="47.10" font-family="Liberation Sans, sans-serif" font-size="10.3" font-weight="normal" text-anchor="start" fill="#000" stroke="#000" stroke-width="0.3" >2</text>
<text x="294.80" y="73.30" font-family="Liberation Sans, sans-serif" font-size="10.3" font-weight="normal" text-anchor="start" fill="#000" stroke="#000" stroke-width="0.3" >1</text>
<text x="294.80" y="98.50" font-family="Liberation Sans, sans-serif" font-size="10.3" font-weight="normal" text-anchor="start" fill="#000" stroke="#000" stroke-width="0.3" >0</text>
<line x1="132.40" y1="45.00" x2="132.40" y2="300.50" stroke="#ff2020" stroke-width="1.5" stroke-dasharray="4.1,2.5"/>
<line x1="239.50" y1="45.00" x2="239.50" y2="300.50" stroke="#ff2020" stroke-width="1.5" stroke-dasharray="4.1,2.5"/>
<text x="136.00" y="333.80" font-family="Liberation Sans, sans-serif" font-size="12.5" font-weight="normal" text-anchor="start" fill="#000" textLength="37.4" lengthAdjust="spacingAndGlyphs" stroke="#000" stroke-width="0.3" >time, s</text>
<text x="148.90" y="370.80" font-family="Liberation Serif, serif" font-size="16.6" font-weight="normal" text-anchor="start" fill="#000" >a)</text>
<path d="M389.00,63.53 L389.60,63.80 L390.20,64.43 L390.80,63.90 L391.40,64.07 L392.00,64.30 L392.60,63.85 L393.20,64.43 L393.80,64.71 L394.40,65.05 L395.00,64.19 L395.60,64.60 L396.20,64.41 L396.80,65.54 L397.40,65.49 L398.00,64.69 L398.60,66.12 L399.20,66.22 L399.80,65.90 L400.40,65.96 L401.00,65.43 L401.60,65.35 L402.20,66.18 L402.80,65.60 L403.40,65.81 L404.00,65.91 L404.60,65.64 L405.20,66.27 L405.80,66.27 L406.40,66.86 L407.00,66.43 L407.60,66.63 L408.20,66.46 L408.80,66.72 L409.40,66.46 L410.00,66.23 L410.60,67.27 L411.20,67.29 L411.80,67.10 L412.40,66.94 L413.00,66.42 L413.60,66.33 L414.20,66.44 L414.80,66.16 L415.40,67.16 L416.00,66.68 L416.60,67.33 L417.20,66.71 L417.80,67.54 L418.40,67.41 L419.00,66.26 L419.60,66.58 L420.20,67.58 L420.80,66.97 L421.40,67.70 L422.00,66.89 L422.60,66.45 L423.20,67.24 L423.80,67.46 L424.40,66.75 L425.00,66.51 L425.60,66.86 L426.20,67.76 L426.80,67.48 L427.40,66.59 L428.00,66.78 L428.60,66.59 L429.20,66.54 L429.80,67.58 L430.40,66.73 L431.00,67.27 L431.60,67.13 L432.20,66.78 L432.80,67.54 L433.40,66.71 L434.00,67.44 L434.60,66.71 L435.20,67.15 L435.80,66.87 L436.40,66.96 L437.00,67.95 L437.60,67.73 L438.20,67.04 L438.80,67.86 L439.40,66.93 L440.00,67.19 L440.60,67.85 L441.20,67.56 L441.80,66.81 L442.40,68.07 L443.00,66.99 L443.60,67.07 L444.20,67.80 L444.80,67.19 L445.40,67.15 L446.00,66.85 L446.60,66.88 L447.20,67.58 L447.80,67.12 L448.40,67.63 L449.00,67.32 L449.60,67.44 L450.20,68.16 L450.80,67.51 L451.40,67.64 L452.00,68.06 L452.60,67.11 L453.20,67.08 L453.80,68.15 L454.40,68.03 L455.00,67.25 L455.60,67.18 L456.20,67.97 L456.80,68.26 L457.40,67.24 L458.00,68.31 L458.60,68.23 L459.20,67.85 L459.80,67.61 L460.40,67.18 L461.00,67.11 L461.60,68.42 L462.20,67.42 L462.80,68.09 L463.40,67.48 L464.00,68.28 L464.60,67.98 L465.20,67.57 L465.80,67.42 L466.40,68.20 L467.00,67.30 L467.60,67.54 L468.20,68.02 L468.80,68.45 L469.40,68.13 L470.00,67.68 L470.60,68.59 L471.20,67.60 L471.80,67.36 L472.40,67.72 L473.00,67.99 L473.60,67.46 L474.20,67.64 L474.80,67.93 L475.40,68.23 L476.00,67.62 L476.60,67.96 L477.20,68.72 L477.80,68.86 L478.40,68.42 L479.00,68.48 L479.60,68.35 L480.20,67.74 L480.80,67.61 L481.40,67.60 L482.00,68.87 L482.60,68.59 L483.20,68.97 L483.80,67.67 L484.40,68.55 L485.00,68.35 L485.60,68.71 L486.20,68.15 L486.80,69.12 L487.40,67.84 L488.00,68.51 L488.60,68.80 L489.20,69.04 L489.80,68.83 L490.40,68.75 L491.00,68.82 L491.60,68.94 L492.20,68.09 L492.80,68.51 L493.40,68.76 L494.00,68.66 L494.60,67.97 L495.20,68.44 L495.80,68.49 L496.40,68.03 L497.00,68.04 L497.60,67.65 L498.20,67.88 L498.80,67.86 L499.40,67.07 L500.00,67.80 L500.60,68.09 L501.20,67.74 L501.80,67.33 L502.40,66.66 L503.00,66.95 L503.60,66.54 L504.20,66.14 L504.80,66.50 L505.40,65.25 L506.00,65.97 L506.60,64.76 L507.20,65.35 L507.80,64.97 L508.40,64.41 L509.00,64.86 L509.60,64.37 L510.20,64.33 L510.80,64.64 L511.40,63.63 L512.00,63.21 L512.60,63.54 L513.20,63.99 L513.80,63.25 L514.40,63.28 L515.00,65.17 L515.60,64.05 L516.20,62.97 L516.80,62.82 L517.40,61.26 L518.00,61.25 L518.60,60.11 L519.20,59.95 L519.80,60.00 L520.40,59.67 L521.00,59.14 L521.60,57.96 L522.20,57.75 L522.80,56.90 L523.40,56.16 L524.00,56.18 L524.60,56.18 L525.20,55.71 L525.80,55.04 L526.40,54.98 L527.00,53.73 L527.60,53.27 L528.20,53.36 L528.80,52.81 L529.40,52.42 L530.00,52.40 L530.60,52.39 L531.20,51.90 L531.80,51.34 L532.40,53.67 L533.00,53.23 L533.60,51.85 L534.20,50.68 L534.80,49.97 L535.40,50.51 L536.00,48.70 L536.60,49.00 L537.20,48.16 L537.80,47.15 L538.40,47.18 L539.00,45.46 L539.60,44.98 L540.20,44.79 L540.80,43.54 L541.40,44.31 L542.00,43.18 L542.60,42.75 L543.20,42.32 L543.80,42.83 L544.40,42.35 L545.00,42.74 L545.60,42.91 L546.20,43.26 L546.80,43.61 L547.40,43.37 L548.00,42.58 L548.60,42.38 L549.20,41.38 L549.80,40.56 L550.40,40.62 L551.00,40.37 L551.60,39.04 L552.20,38.58 L552.80,38.08 L553.40,37.98 L554.00,37.13 L554.60,36.66 L555.20,36.26 L555.80,35.15 L556.40,35.11 L557.00,34.67 L557.60,32.92 L558.20,33.51 L558.80,32.56 L559.40,32.46 L560.00,36.43 L560.60,36.22 L561.20,36.17 L561.80,34.97 L562.40,34.79 L563.00,34.77 L563.60,34.20 L564.20,33.95 L564.80,32.83 L565.40,32.64 L566.00,31.56 L566.60,31.87 L567.20,31.59 L567.80,30.93 L568.40,30.62 L569.00,29.50 L569.60,30.05 L570.20,29.75 L570.80,29.33 L571.40,28.30 L572.00,28.24 L572.60,27.17 L573.20,27.58 L573.80,27.09 L574.40,25.96 L575.00,25.21 L575.60,25.39 L576.20,25.23 L576.80,26.20 L577.40,27.09 L578.00,25.88 L578.60,26.42 L579.20,24.81 L579.80,25.28 L580.40,23.84 L581.00,23.50 L581.60,23.58 L582.20,22.11 L582.80,21.56 L583.40,21.51 L584.00,21.24 L584.60,20.84 L585.20,20.07 L585.80,19.86 L586.40,18.65 L587.00,18.72 L587.60,16.94 L588.20,16.57 L588.80,16.42 L589.40,15.52 L590.00,15.57" fill="none" stroke="#000" stroke-width="3.2" stroke-linejoin="round" stroke-linecap="round" />
<path d="M389.00,91.73 L389.60,90.68 L390.20,90.62 L390.80,101.15 L391.40,101.09 L392.00,101.04 L392.60,99.52 L393.20,95.07 L393.80,99.02 L394.40,105.02 L395.00,96.72 L395.60,97.20 L396.20,96.62 L396.80,102.34 L397.40,102.98 L398.00,103.19 L398.60,107.77 L399.20,94.31 L399.80,104.75 L400.40,87.20 L401.00,95.26 L401.60,97.18 L402.20,97.15 L402.80,99.12 L403.40,98.52 L404.00,98.42 L404.60,93.29 L405.20,98.17 L405.80,93.45 L406.40,94.83 L407.00,88.49 L407.60,98.94 L408.20,97.78 L408.80,95.05 L409.40,104.01 L410.00,101.76 L410.60,96.84 L411.20,98.69 L411.80,90.34 L412.40,98.07 L413.00,89.16 L413.60,101.53 L414.20,100.69 L414.80,88.76 L415.40,97.24 L416.00,89.92 L416.60,93.66 L417.20,95.13 L417.80,81.92 L418.40,94.68 L419.00,97.06 L419.60,96.89 L420.20,88.99 L420.80,92.16 L421.40,99.73 L422.00,99.47 L422.60,96.10 L423.20,87.71 L423.80,87.99 L424.40,96.57 L425.00,101.38 L425.60,97.64 L426.20,98.12 L426.80,98.63 L427.40,94.45 L428.00,93.34 L428.60,94.40 L429.20,96.83 L429.80,95.05 L430.40,95.03 L431.00,99.41 L431.60,93.22 L432.20,101.41 L432.80,93.70 L433.40,92.43 L434.00,99.66 L434.60,100.61 L435.20,93.75 L435.80,105.23 L436.40,93.69 L437.00,101.50 L437.60,105.74 L438.20,98.30 L438.80,91.60 L439.40,100.07 L440.00,91.97 L440.60,101.79 L441.20,97.39 L441.80,105.44 L442.40,101.51 L443.00,109.26 L443.60,104.07 L444.20,98.07 L444.80,100.44 L445.40,98.74 L446.00,98.64 L446.60,95.33 L447.20,94.41 L447.80,101.67 L448.40,100.66 L449.00,106.00 L449.60,100.85 L450.20,100.95 L450.80,102.93 L451.40,103.52 L452.00,102.76 L452.60,100.38 L453.20,95.36 L453.80,106.58 L454.40,102.42 L455.00,104.53 L455.60,108.05 L456.20,102.69 L456.80,99.54 L457.40,97.41 L458.00,89.94 L458.60,93.93 L459.20,94.74 L459.80,99.34 L460.40,93.67 L461.00,100.46 L461.60,97.65 L462.20,99.18 L462.80,103.82 L463.40,98.09 L464.00,90.87 L464.60,97.57 L465.20,99.36 L465.80,98.95 L466.40,102.02 L467.00,98.71 L467.60,101.44 L468.20,100.13 L468.80,100.61 L469.40,102.76 L470.00,103.99 L470.60,98.83 L471.20,92.71 L471.80,101.17 L472.40,106.08 L473.00,96.07 L473.60,99.60 L474.20,99.08 L474.80,94.08 L475.40,91.36 L476.00,94.11 L476.60,93.75 L477.20,94.24 L477.80,98.83 L478.40,94.66 L479.00,91.02 L479.60,98.38 L480.20,94.99 L480.80,94.39 L481.40,101.60 L482.00,99.02 L482.60,92.27 L483.20,93.13 L483.80,95.04 L484.40,94.15 L485.00,101.32 L485.60,103.42 L486.20,96.61 L486.80,104.73 L487.40,100.19 L488.00,99.24 L488.60,98.28 L489.20,105.34 L489.80,101.79 L490.40,109.61 L491.00,100.02 L491.60,108.65 L492.20,112.66 L492.80,109.13 L493.40,106.91 L494.00,97.70 L494.60,102.50 L495.20,109.93 L495.80,108.19 L496.40,103.36 L497.00,100.67 L497.60,104.47 L498.20,102.37 L498.80,94.88 L499.40,97.06 L500.00,97.07 L500.60,92.38 L501.20,96.58 L501.80,102.52 L502.40,104.92 L503.00,94.54 L503.60,91.33 L504.20,98.30 L504.80,100.54 L505.40,95.01 L506.00,100.08 L506.60,96.05 L507.20,93.80 L507.80,104.77 L508.40,104.06 L509.00,100.32 L509.60,101.59 L510.20,107.51 L510.80,107.78 L511.50,101.39 L512.40,102.47 L513.30,108.04 L514.20,106.76 L515.10,104.39 L516.00,105.14 L516.90,112.07 L517.80,111.54 L518.70,113.97 L519.60,111.05 L520.50,115.20 L521.40,114.19 L522.30,114.14 L523.20,115.49 L524.10,118.01 L525.00,117.03 L525.90,118.71 L526.80,118.55 L527.70,124.44 L528.60,124.71 L529.50,127.15 L530.40,125.71 L531.30,128.68 L532.20,126.85 L532.30,127.36 L533.10,89.45 L533.30,79.40 L534.00,85.72 L534.90,91.17 L535.80,96.64 L536.70,102.38 L537.60,105.03 L538.50,113.37 L539.40,113.03 L540.30,116.80 L541.20,113.97 L542.10,118.67 L543.00,122.78 L543.90,122.26 L544.70,121.96 L544.80,121.88 L545.70,88.37 L545.90,84.00 L546.60,87.30 L547.50,94.29 L548.40,98.79 L549.30,105.42 L550.20,103.43 L551.10,106.11 L552.00,107.76 L552.90,109.62 L553.80,112.67 L554.70,114.30 L555.60,117.60 L556.50,116.24 L557.40,123.32 L558.30,120.99 L559.20,125.42 L560.10,123.31 L560.40,123.04 L561.00,95.76 L561.40,77.50 L561.90,78.85 L562.80,88.89 L563.70,91.98 L564.60,99.01 L565.50,103.17 L566.40,102.70 L567.30,105.57 L568.20,106.61 L569.10,109.72 L570.00,110.22 L570.90,113.75 L571.80,118.65 L572.70,115.81 L573.60,116.38 L574.50,118.15 L575.40,117.64 L576.30,121.10 L576.30,121.00 L577.20,78.16 L577.30,75.60 L578.10,83.30 L579.00,91.00 L579.90,93.82 L580.80,96.12 L581.70,102.43 L582.60,98.35 L583.50,100.26 L584.40,105.95 L585.30,104.74 L586.20,104.11 L587.10,108.79 L588.00,112.86 L588.90,110.92 L589.80,110.78 L590.70,109.96" fill="none" stroke="#000" stroke-width="1.9" stroke-linejoin="round" stroke-linecap="round" stroke-linejoin="miter" stroke-miterlimit="2"/>
<clipPath id="cv"><rect x="389" y="134" width="201.6" height="61"/></clipPath>
<g clip-path="url(#cv)">
<path d="M388.00,150.30 C388.22,150.30 388.42,150.17 389.30,150.30 C390.18,150.43 391.77,150.97 393.30,151.10 C394.83,151.23 396.45,151.23 398.50,151.10 C400.55,150.97 402.95,150.37 405.60,150.30 C408.25,150.23 411.48,150.78 414.40,150.70 C417.32,150.62 420.92,150.10 423.10,149.80 C425.28,149.50 425.43,149.12 427.50,148.90 C429.57,148.68 433.32,148.05 435.50,148.50 C437.68,148.95 439.15,151.30 440.60,151.60 C442.05,151.90 443.02,150.38 444.20,150.30 C445.38,150.22 446.38,151.18 447.70,151.10 C449.02,151.02 450.50,149.93 452.10,149.80 C453.70,149.67 455.55,150.08 457.30,150.30 C459.05,150.52 460.68,150.67 462.60,151.10 C464.52,151.53 466.75,153.03 468.80,152.90 C470.85,152.77 473.30,151.10 474.90,150.30 C476.50,149.50 477.23,147.88 478.40,148.10 C479.57,148.32 480.58,150.65 481.90,151.60 C483.22,152.55 484.75,153.52 486.30,153.80 C487.85,154.08 489.32,153.25 491.20,153.30 C493.08,153.35 495.47,154.23 497.60,154.10 C499.73,153.97 501.85,152.23 504.00,152.50 C506.15,152.77 508.35,155.17 510.50,155.70 C512.65,156.23 515.30,154.90 516.90,155.70 C518.50,156.50 518.63,159.17 520.10,160.50 C521.57,161.83 524.10,163.57 525.70,163.70 C527.30,163.83 528.50,160.23 529.70,161.30 C530.90,162.37 531.82,170.10 532.90,170.10 C533.98,170.10 534.82,162.90 536.20,161.30 C537.58,159.70 539.43,159.43 541.20,160.50 C542.97,161.57 545.20,167.30 546.80,167.70 C548.40,168.10 549.32,163.03 550.80,162.90 C552.28,162.77 553.95,165.03 555.70,166.90 C557.45,168.77 559.57,174.23 561.30,174.10 C563.03,173.97 564.63,167.43 566.10,166.10 C567.57,164.77 568.37,164.23 570.10,166.10 C571.83,167.97 574.63,176.23 576.50,177.30 C578.37,178.37 579.68,173.30 581.30,172.50 C582.92,171.70 584.85,171.97 586.20,172.50 C587.55,173.03 588.43,175.57 589.40,175.70 C590.37,175.83 591.57,173.70 592.00,173.30" fill="none" stroke="#000" stroke-width="2.7" stroke-linejoin="round" stroke-linecap="round" />
<path d="M388.00,161.00 C388.22,160.90 388.42,161.32 389.30,160.40 C390.18,159.48 392.05,155.65 393.30,155.50 C394.55,155.35 395.48,158.77 396.80,159.50 C398.12,160.23 399.58,160.05 401.20,159.90 C402.82,159.75 404.82,158.15 406.50,158.60 C408.18,159.05 409.98,162.67 411.30,162.60 C412.62,162.53 413.15,159.23 414.40,158.20 C415.65,157.17 417.35,157.28 418.80,156.40 C420.25,155.52 421.78,153.78 423.10,152.90 C424.42,152.02 425.52,151.32 426.70,151.10 C427.88,150.88 429.03,151.23 430.20,151.60 C431.37,151.97 432.53,153.02 433.70,153.30 C434.87,153.58 436.05,152.57 437.20,153.30 C438.35,154.03 439.30,157.40 440.60,157.70 C441.90,158.00 443.53,155.60 445.00,155.10 C446.47,154.60 448.15,155.13 449.40,154.70 C450.65,154.27 451.40,152.43 452.50,152.50 C453.60,152.57 454.62,154.52 456.00,155.10 C457.38,155.68 459.40,155.42 460.80,156.00 C462.20,156.58 463.07,158.38 464.40,158.60 C465.73,158.82 467.35,158.10 468.80,157.30 C470.25,156.50 471.78,154.47 473.10,153.80 C474.42,153.13 475.37,153.08 476.70,153.30 C478.03,153.52 479.63,153.78 481.10,155.10 C482.57,156.42 484.35,160.70 485.50,161.20 C486.65,161.70 487.05,158.88 488.00,158.10 C488.95,157.32 490.00,155.97 491.20,156.50 C492.40,157.03 494.00,161.57 495.20,161.30 C496.40,161.03 497.20,155.03 498.40,154.90 C499.60,154.77 500.92,159.70 502.40,160.50 C503.88,161.30 505.95,158.63 507.30,159.70 C508.65,160.77 509.43,165.97 510.50,166.90 C511.57,167.83 512.37,164.90 513.70,165.30 C515.03,165.70 517.03,167.70 518.50,169.30 C519.97,170.90 520.90,173.83 522.50,174.90 C524.10,175.97 526.37,173.28 528.10,175.70 C529.83,178.12 531.42,189.27 532.90,189.40 C534.38,189.53 535.35,179.32 537.00,176.50 C538.65,173.68 541.03,171.55 542.80,172.50 C544.57,173.45 546.00,181.80 547.60,182.20 C549.20,182.60 550.78,175.72 552.40,174.90 C554.02,174.08 555.73,174.22 557.30,177.30 C558.87,180.38 560.33,193.40 561.80,193.40 C563.27,193.40 564.45,180.25 566.10,177.30 C567.75,174.35 569.83,174.08 571.70,175.70 C573.57,177.32 575.57,187.00 577.30,187.00 C579.03,187.00 580.62,178.25 582.10,175.70 C583.58,173.15 584.98,172.63 586.20,171.70 C587.42,170.77 588.43,169.30 589.40,170.10 C590.37,170.90 591.57,175.43 592.00,176.50" fill="none" stroke="#ff0000" stroke-width="2.7" stroke-linejoin="round" stroke-linecap="round" />
<path d="M388.00,145.30 C388.22,145.47 388.42,145.25 389.30,146.30 C390.18,147.35 391.83,149.62 393.30,151.60 C394.77,153.58 396.78,157.92 398.10,158.20 C399.42,158.48 400.10,153.88 401.20,153.30 C402.30,152.72 403.68,154.77 404.70,154.70 C405.72,154.63 406.28,153.78 407.30,152.90 C408.32,152.02 409.62,149.33 410.80,149.40 C411.98,149.47 413.00,153.45 414.40,153.30 C415.80,153.15 417.75,148.27 419.20,148.50 C420.65,148.73 421.85,154.33 423.10,154.70 C424.35,155.07 425.37,151.80 426.70,150.70 C428.03,149.60 429.87,147.95 431.10,148.10 C432.33,148.25 433.08,151.23 434.10,151.60 C435.12,151.97 435.82,150.02 437.20,150.30 C438.58,150.58 440.65,152.87 442.40,153.30 C444.15,153.73 445.65,153.70 447.70,152.90 C449.75,152.10 452.80,148.35 454.70,148.50 C456.60,148.65 457.63,153.13 459.10,153.80 C460.57,154.47 461.88,151.92 463.50,152.50 C465.12,153.08 467.20,157.67 468.80,157.30 C470.40,156.93 471.50,151.92 473.10,150.30 C474.70,148.68 476.78,147.38 478.40,147.60 C480.02,147.82 481.33,149.98 482.80,151.60 C484.27,153.22 485.53,156.75 487.20,157.30 C488.87,157.85 491.07,156.12 492.80,154.90 C494.53,153.68 496.00,150.82 497.60,150.00 C499.20,149.18 500.52,149.05 502.40,150.00 C504.28,150.95 506.75,153.68 508.90,155.70 C511.05,157.72 513.43,160.23 515.30,162.10 C517.17,163.97 518.23,166.63 520.10,166.90 C521.97,167.17 524.63,163.57 526.50,163.70 C528.37,163.83 529.68,167.57 531.30,167.70 C532.92,167.83 534.28,165.83 536.20,164.50 C538.12,163.17 541.03,159.70 542.80,159.70 C544.57,159.70 545.20,164.10 546.80,164.50 C548.40,164.90 550.65,161.97 552.40,162.10 C554.15,162.23 555.82,163.83 557.30,165.30 C558.78,166.77 559.83,170.77 561.30,170.90 C562.77,171.03 564.63,167.30 566.10,166.10 C567.57,164.90 569.12,163.88 570.10,163.70 C571.08,163.52 571.20,165.13 572.00,165.00 C572.80,164.87 574.15,163.03 574.90,162.90 C575.65,162.77 575.97,164.73 576.50,164.20 C577.03,163.67 577.57,160.23 578.10,159.70 C578.63,159.17 579.17,161.27 579.70,161.00 C580.23,160.73 580.77,158.35 581.30,158.10 C581.83,157.85 582.37,159.77 582.90,159.50 C583.43,159.23 583.97,156.75 584.50,156.50 C585.03,156.25 585.55,158.27 586.10,158.00 C586.65,157.73 587.25,155.55 587.80,154.90 C588.35,154.25 588.70,153.30 589.40,154.10 C590.10,154.90 591.57,158.77 592.00,159.70" fill="none" stroke="#00ff00" stroke-width="2.7" stroke-linejoin="round" stroke-linecap="round" />
<path d="M388.00,142.80 C388.22,142.80 388.57,143.23 389.30,142.80 C390.03,142.37 391.37,140.05 392.40,140.20 C393.43,140.35 394.48,142.62 395.50,143.70 C396.52,144.78 397.55,146.48 398.50,146.70 C399.45,146.92 400.38,145.28 401.20,145.00 C402.02,144.72 402.60,145.80 403.40,145.00 C404.20,144.20 405.05,140.78 406.00,140.20 C406.95,139.62 408.00,141.07 409.10,141.50 C410.20,141.93 411.58,143.02 412.60,142.80 C413.62,142.58 414.25,140.35 415.20,140.20 C416.15,140.05 417.27,141.47 418.30,141.90 C419.33,142.33 420.52,142.95 421.40,142.80 C422.28,142.65 422.72,140.57 423.60,141.00 C424.48,141.43 425.75,145.10 426.70,145.40 C427.65,145.70 428.43,143.02 429.30,142.80 C430.17,142.58 430.87,144.10 431.90,144.10 C432.93,144.10 434.48,143.10 435.50,142.80 C436.52,142.50 437.00,142.67 438.00,142.30 C439.00,141.93 440.40,140.52 441.50,140.60 C442.60,140.68 443.57,141.63 444.60,142.80 C445.63,143.97 446.60,148.18 447.70,147.60 C448.80,147.02 449.88,140.18 451.20,139.30 C452.52,138.42 454.28,141.65 455.60,142.30 C456.92,142.95 457.78,142.75 459.10,143.20 C460.42,143.65 462.33,144.70 463.50,145.00 C464.67,145.30 465.22,145.52 466.10,145.00 C466.98,144.48 467.98,141.98 468.80,141.90 C469.62,141.82 470.13,145.15 471.00,144.50 C471.87,143.85 472.92,138.43 474.00,138.00 C475.08,137.57 476.32,141.32 477.50,141.90 C478.68,142.48 480.07,141.72 481.10,141.50 C482.13,141.28 482.62,139.65 483.70,140.60 C484.78,141.55 486.48,146.70 487.60,147.20 C488.72,147.70 489.27,143.67 490.40,143.60 C491.53,143.53 492.93,146.67 494.40,146.80 C495.87,146.93 497.60,145.20 499.20,144.40 C500.80,143.60 502.38,141.87 504.00,142.00 C505.62,142.13 507.15,143.87 508.90,145.20 C510.65,146.53 512.63,149.60 514.50,150.00 C516.37,150.40 518.37,148.27 520.10,147.60 C521.83,146.93 523.17,147.33 524.90,146.00 C526.63,144.67 529.03,139.73 530.50,139.60 C531.97,139.47 532.45,144.27 533.70,145.20 C534.95,146.13 536.75,145.33 538.00,145.20 C539.25,145.07 540.13,144.27 541.20,144.40 C542.27,144.53 542.93,145.07 544.40,146.00 C545.87,146.93 548.40,150.40 550.00,150.00 C551.60,149.60 552.65,145.47 554.00,143.60 C555.35,141.73 556.88,138.53 558.10,138.80 C559.32,139.07 560.37,143.18 561.30,145.20 C562.23,147.22 562.50,150.90 563.70,150.90 C564.90,150.90 566.90,146.68 568.50,145.20 C570.10,143.72 571.57,140.65 573.30,142.00 C575.03,143.35 577.17,152.77 578.90,153.30 C580.63,153.83 582.22,146.82 583.70,145.20 C585.18,143.58 586.42,143.47 587.80,143.60 C589.18,143.73 591.30,145.60 592.00,146.00" fill="none" stroke="#0000ff" stroke-width="2.7" stroke-linejoin="round" stroke-linecap="round" />
</g>
<line x1="423.80" y1="162.60" x2="442.40" y2="162.60" stroke="#000" stroke-width="1.9" />
<text x="444.60" y="165.30" font-family="Liberation Sans, sans-serif" font-size="7.2" font-weight="bold" text-anchor="start" fill="#000" textLength="27.8" lengthAdjust="spacingAndGlyphs" stroke="#000" stroke-width="0.25">&#961; = 0.69</text>
<line x1="423.80" y1="171.60" x2="442.40" y2="171.60" stroke="#ff0000" stroke-width="1.9" />
<text x="444.60" y="174.30" font-family="Liberation Sans, sans-serif" font-size="7.2" font-weight="bold" text-anchor="start" fill="#000" textLength="27.8" lengthAdjust="spacingAndGlyphs" stroke="#000" stroke-width="0.25">&#961; = 0.86</text>
<line x1="423.80" y1="180.30" x2="442.40" y2="180.30" stroke="#00ff00" stroke-width="1.9" />
<text x="444.60" y="183.00" font-family="Liberation Sans, sans-serif" font-size="7.2" font-weight="bold" text-anchor="start" fill="#000" textLength="27.8" lengthAdjust="spacingAndGlyphs" stroke="#000" stroke-width="0.25">&#961; = 0.95</text>
<line x1="423.80" y1="189.20" x2="442.40" y2="189.20" stroke="#0000ff" stroke-width="1.9" />
<text x="444.60" y="191.90" font-family="Liberation Sans, sans-serif" font-size="7.2" font-weight="bold" text-anchor="start" fill="#000" textLength="27.8" lengthAdjust="spacingAndGlyphs" stroke="#000" stroke-width="0.25">&#961; = 1.04</text>
<clipPath id="co"><rect x="389" y="194.9" width="201.6" height="61"/></clipPath>
<g clip-path="url(#co)">
<path d="M389.10,249.00 C389.67,246.82 391.62,238.23 392.50,235.90 C393.38,233.57 393.62,235.93 394.40,235.00 C395.18,234.07 396.10,229.83 397.20,230.30 C398.30,230.77 399.28,238.58 401.00,237.80 C402.72,237.02 405.48,225.30 407.50,225.60 C409.52,225.90 411.70,239.45 413.10,239.60 C414.50,239.75 414.82,226.50 415.90,226.50 C416.98,226.50 418.20,239.92 419.60,239.60 C421.00,239.28 422.73,224.43 424.30,224.60 C425.87,224.77 427.75,236.85 429.00,240.60 C430.25,244.35 430.70,248.03 431.80,247.10 C432.90,246.17 434.20,237.97 435.60,235.00 C437.00,232.03 438.80,228.53 440.20,229.30 C441.60,230.07 442.75,237.10 444.00,239.60 C445.25,242.10 446.45,246.02 447.70,244.30 C448.95,242.58 450.40,229.77 451.50,229.30 C452.60,228.83 452.88,241.03 454.30,241.50 C455.72,241.97 458.43,232.25 460.00,232.10 C461.57,231.95 462.32,241.85 463.70,240.60 C465.08,239.35 466.90,225.38 468.30,224.60 C469.70,223.82 470.53,233.08 472.10,235.90 C473.67,238.72 475.98,240.88 477.70,241.50 C479.42,242.12 481.15,241.63 482.40,239.60 C483.65,237.57 484.30,230.23 485.20,229.30 C486.10,228.37 487.05,234.00 487.80,234.00 C488.55,234.00 488.92,228.67 489.70,229.30 C490.48,229.93 491.57,236.08 492.50,237.80 C493.43,239.52 494.43,238.20 495.30,239.60 C496.17,241.00 496.92,246.20 497.70,246.20 C498.48,246.20 499.15,240.38 500.00,239.60 C500.85,238.82 501.87,242.60 502.80,241.50 C503.73,240.40 504.67,234.72 505.60,233.00 C506.53,231.28 507.15,232.43 508.40,231.20 C509.65,229.97 511.85,226.07 513.10,225.60 C514.35,225.13 514.82,230.12 515.90,228.40 C516.98,226.68 518.50,216.55 519.60,215.30 C520.70,214.05 521.55,220.75 522.50,220.90 C523.45,221.05 524.53,216.52 525.30,216.20 C526.07,215.88 526.32,221.18 527.10,219.00 C527.88,216.82 529.15,206.07 530.00,203.10 C530.85,200.13 531.43,199.33 532.20,201.20 C532.97,203.07 533.73,212.88 534.60,214.30 C535.47,215.72 536.30,208.92 537.40,209.70 C538.50,210.48 540.10,216.03 541.20,219.00 C542.30,221.97 543.07,229.22 544.00,227.50 C544.93,225.78 545.72,207.78 546.80,208.70 C547.88,209.62 549.10,232.07 550.50,233.00 C551.90,233.93 553.63,220.37 555.20,214.30 C556.77,208.23 558.33,194.88 559.90,196.60 C561.47,198.32 563.20,220.87 564.60,224.60 C566.00,228.33 567.05,221.80 568.30,219.00 C569.55,216.20 570.68,208.27 572.10,207.80 C573.52,207.33 575.55,210.27 576.80,216.20 C578.05,222.13 578.67,241.05 579.60,243.40 C580.53,245.75 581.63,231.87 582.40,230.30 C583.17,228.73 583.58,235.25 584.20,234.00 C584.82,232.75 585.32,222.63 586.10,222.80 C586.88,222.97 588.15,235.00 588.90,235.00 C589.65,235.00 590.32,224.83 590.60,222.80" fill="none" stroke="#808000" stroke-width="2.5" stroke-linejoin="round" stroke-linecap="round" />
</g>
<line x1="425.60" y1="213.40" x2="443.20" y2="213.40" stroke="#808000" stroke-width="2.2" />
<text x="446.20" y="216.20" font-family="Liberation Sans, sans-serif" font-size="7.4" font-weight="bold" text-anchor="start" fill="#000" textLength="23.5" lengthAdjust="spacingAndGlyphs" stroke="#000" stroke-width="0.25">&#961; = 1.0</text>
<clipPath id="ca"><rect x="389" y="255.8" width="201.6" height="61.2"/></clipPath>
<g clip-path="url(#ca)">
<path d="M389.10,256.60 L391.60,263.10 L393.40,264.00 L395.30,277.20 L397.20,267.80 L399.60,282.80 L401.90,265.00 L403.70,271.50 L405.20,259.40 L407.10,281.80 L409.30,268.70 L411.20,274.30 L413.10,271.50 L415.90,277.20 L417.75,268.47 L419.60,263.10 L421.50,266.90 L424.30,273.40 L427.15,272.50 L430.00,269.70 L432.80,265.90 L434.65,267.07 L436.50,266.90 L439.30,276.20 L441.00,279.85 L442.70,283.70 L444.30,274.33 L445.90,267.80 L448.70,280.90 L451.50,271.50 L453.35,268.76 L455.20,263.10 L458.00,278.10 L460.80,272.50 L463.70,276.20 L465.55,278.69 L467.40,278.10 L470.20,274.30 L473.00,265.00 L474.90,264.11 L476.80,263.10 L478.65,265.93 L480.50,268.70 L482.40,280.00 L485.20,269.70 L486.90,280.00 L488.70,272.50 L490.60,276.78 L492.50,283.70 L494.35,271.37 L496.20,264.00 L498.10,275.30 L500.00,270.60 L502.80,276.20 L503.70,270.60 L504.70,280.00 L506.50,270.60 L508.40,271.50 L510.30,267.80 L511.20,293.10 L514.00,287.50 L516.80,298.70 L519.60,290.30 L522.50,295.90 L526.25,292.91 L530.00,291.20 L531.80,298.70 L533.70,290.68 L535.60,281.80 L537.45,286.25 L539.30,295.00 L542.10,285.60 L543.40,294.00 L545.30,280.90 L547.45,287.07 L549.60,290.30 L553.35,293.16 L557.10,298.70 L559.90,287.50 L561.80,289.91 L563.70,295.00 L566.50,289.86 L569.30,289.30 L571.15,294.64 L573.00,295.00 L575.35,298.49 L577.70,299.60 L580.50,288.40 L583.30,295.00 L585.15,294.53 L587.00,290.30 L588.80,290.38 L590.60,289.30" fill="none" stroke="#0000ff" stroke-width="2.4" stroke-linejoin="round" stroke-linecap="round" />
</g>
<line x1="510.30" y1="12.20" x2="510.30" y2="316.80" stroke="#000" stroke-width="1.2" stroke-dasharray="4,2.4"/>
<line x1="388.30" y1="12.20" x2="591.90" y2="12.20" stroke="#000" stroke-width="1.6" />
<line x1="388.30" y1="73.10" x2="591.90" y2="73.10" stroke="#000" stroke-width="1.6" />
<line x1="388.30" y1="133.90" x2="591.90" y2="133.90" stroke="#000" stroke-width="1.6" />
<line x1="388.30" y1="195.00" x2="591.90" y2="195.00" stroke="#000" stroke-width="1.6" />
<line x1="388.30" y1="255.80" x2="591.90" y2="255.80" stroke="#000" stroke-width="1.6" />
<line x1="388.30" y1="316.80" x2="591.90" y2="316.80" stroke="#000" stroke-width="1.6" />
<line x1="389.20" y1="12.20" x2="389.20" y2="317.70" stroke="#000" stroke-width="1.6" />
<line x1="591.00" y1="12.20" x2="591.00" y2="317.70" stroke="#000" stroke-width="1.6" />
<line x1="388.90" y1="12.20" x2="388.90" y2="17.70" stroke="#000" stroke-width="1.5" />
<line x1="388.90" y1="73.10" x2="388.90" y2="78.60" stroke="#000" stroke-width="1.5" />
<line x1="388.90" y1="133.90" x2="388.90" y2="139.40" stroke="#000" stroke-width="1.5" />
<line x1="388.90" y1="195.00" x2="388.90" y2="200.50" stroke="#000" stroke-width="1.5" />
<line x1="388.90" y1="255.80" x2="388.90" y2="261.30" stroke="#000" stroke-width="1.5" />
<line x1="388.90" y1="316.80" x2="388.90" y2="320.30" stroke="#000" stroke-width="1.5" />
<line x1="406.30" y1="12.20" x2="406.30" y2="15.70" stroke="#000" stroke-width="1.5" />
<line x1="406.30" y1="73.10" x2="406.30" y2="76.60" stroke="#000" stroke-width="1.5" />
<line x1="406.30" y1="133.90" x2="406.30" y2="137.40" stroke="#000" stroke-width="1.5" />
<line x1="406.30" y1="195.00" x2="406.30" y2="198.50" stroke="#000" stroke-width="1.5" />
<line x1="406.30" y1="255.80" x2="406.30" y2="259.30" stroke="#000" stroke-width="1.5" />
<line x1="423.70" y1="12.20" x2="423.70" y2="17.70" stroke="#000" stroke-width="1.5" />
<line x1="423.70" y1="73.10" x2="423.70" y2="78.60" stroke="#000" stroke-width="1.5" />
<line x1="423.70" y1="133.90" x2="423.70" y2="139.40" stroke="#000" stroke-width="1.5" />
<line x1="423.70" y1="195.00" x2="423.70" y2="200.50" stroke="#000" stroke-width="1.5" />
<line x1="423.70" y1="255.80" x2="423.70" y2="261.30" stroke="#000" stroke-width="1.5" />
<line x1="423.70" y1="316.80" x2="423.70" y2="320.30" stroke="#000" stroke-width="1.5" />
<line x1="441.10" y1="12.20" x2="441.10" y2="15.70" stroke="#000" stroke-width="1.5" />
<line x1="441.10" y1="73.10" x2="441.10" y2="76.60" stroke="#000" stroke-width="1.5" />
<line x1="441.10" y1="133.90" x2="441.10" y2="137.40" stroke="#000" stroke-width="1.5" />
<line x1="441.10" y1="195.00" x2="441.10" y2="198.50" stroke="#000" stroke-width="1.5" />
<line x1="441.10" y1="255.80" x2="441.10" y2="259.30" stroke="#000" stroke-width="1.5" />
<line x1="458.50" y1="12.20" x2="458.50" y2="17.70" stroke="#000" stroke-width="1.5" />
<line x1="458.50" y1="73.10" x2="458.50" y2="78.60" stroke="#000" stroke-width="1.5" />
<line x1="458.50" y1="133.90" x2="458.50" y2="139.40" stroke="#000" stroke-width="1.5" />
<line x1="458.50" y1="195.00" x2="458.50" y2="200.50" stroke="#000" stroke-width="1.5" />
<line x1="458.50" y1="255.80" x2="458.50" y2="261.30" stroke="#000" stroke-width="1.5" />
<line x1="458.50" y1="316.80" x2="458.50" y2="320.30" stroke="#000" stroke-width="1.5" />
<line x1="475.90" y1="12.20" x2="475.90" y2="15.70" stroke="#000" stroke-width="1.5" />
<line x1="475.90" y1="73.10" x2="475.90" y2="76.60" stroke="#000" stroke-width="1.5" />
<line x1="475.90" y1="133.90" x2="475.90" y2="137.40" stroke="#000" stroke-width="1.5" />
<line x1="475.90" y1="195.00" x2="475.90" y2="198.50" stroke="#000" stroke-width="1.5" />
<line x1="475.90" y1="255.80" x2="475.90" y2="259.30" stroke="#000" stroke-width="1.5" />
<line x1="493.30" y1="12.20" x2="493.30" y2="17.70" stroke="#000" stroke-width="1.5" />
<line x1="493.30" y1="73.10" x2="493.30" y2="78.60" stroke="#000" stroke-width="1.5" />
<line x1="493.30" y1="133.90" x2="493.30" y2="139.40" stroke="#000" stroke-width="1.5" />
<line x1="493.30" y1="195.00" x2="493.30" y2="200.50" stroke="#000" stroke-width="1.5" />
<line x1="493.30" y1="255.80" x2="493.30" y2="261.30" stroke="#000" stroke-width="1.5" />
<line x1="493.30" y1="316.80" x2="493.30" y2="320.30" stroke="#000" stroke-width="1.5" />
<line x1="510.70" y1="12.20" x2="510.70" y2="15.70" stroke="#000" stroke-width="1.5" />
<line x1="510.70" y1="73.10" x2="510.70" y2="76.60" stroke="#000" stroke-width="1.5" />
<line x1="510.70" y1="133.90" x2="510.70" y2="137.40" stroke="#000" stroke-width="1.5" />
<line x1="510.70" y1="195.00" x2="510.70" y2="198.50" stroke="#000" stroke-width="1.5" />
<line x1="510.70" y1="255.80" x2="510.70" y2="259.30" stroke="#000" stroke-width="1.5" />
<line x1="528.10" y1="12.20" x2="528.10" y2="17.70" stroke="#000" stroke-width="1.5" />
<line x1="528.10" y1="73.10" x2="528.10" y2="78.60" stroke="#000" stroke-width="1.5" />
<line x1="528.10" y1="133.90" x2="528.10" y2="139.40" stroke="#000" stroke-width="1.5" />
<line x1="528.10" y1="195.00" x2="528.10" y2="200.50" stroke="#000" stroke-width="1.5" />
<line x1="528.10" y1="255.80" x2="528.10" y2="261.30" stroke="#000" stroke-width="1.5" />
<line x1="528.10" y1="316.80" x2="528.10" y2="320.30" stroke="#000" stroke-width="1.5" />
<line x1="545.50" y1="12.20" x2="545.50" y2="15.70" stroke="#000" stroke-width="1.5" />
<line x1="545.50" y1="73.10" x2="545.50" y2="76.60" stroke="#000" stroke-width="1.5" />
<line x1="545.50" y1="133.90" x2="545.50" y2="137.40" stroke="#000" stroke-width="1.5" />
<line x1="545.50" y1="195.00" x2="545.50" y2="198.50" stroke="#000" stroke-width="1.5" />
<line x1="545.50" y1="255.80" x2="545.50" y2="259.30" stroke="#000" stroke-width="1.5" />
<line x1="562.90" y1="12.20" x2="562.90" y2="17.70" stroke="#000" stroke-width="1.5" />
<line x1="562.90" y1="73.10" x2="562.90" y2="78.60" stroke="#000" stroke-width="1.5" />
<line x1="562.90" y1="133.90" x2="562.90" y2="139.40" stroke="#000" stroke-width="1.5" />
<line x1="562.90" y1="195.00" x2="562.90" y2="200.50" stroke="#000" stroke-width="1.5" />
<line x1="562.90" y1="255.80" x2="562.90" y2="261.30" stroke="#000" stroke-width="1.5" />
<line x1="562.90" y1="316.80" x2="562.90" y2="320.30" stroke="#000" stroke-width="1.5" />
<line x1="580.30" y1="12.20" x2="580.30" y2="15.70" stroke="#000" stroke-width="1.5" />
<line x1="580.30" y1="73.10" x2="580.30" y2="76.60" stroke="#000" stroke-width="1.5" />
<line x1="580.30" y1="133.90" x2="580.30" y2="137.40" stroke="#000" stroke-width="1.5" />
<line x1="580.30" y1="195.00" x2="580.30" y2="198.50" stroke="#000" stroke-width="1.5" />
<line x1="580.30" y1="255.80" x2="580.30" y2="259.30" stroke="#000" stroke-width="1.5" />
<line x1="382.00" y1="20.10" x2="389.20" y2="20.10" stroke="#000" stroke-width="1.5" />
<line x1="584.00" y1="20.10" x2="591.00" y2="20.10" stroke="#000" stroke-width="1.5" />
<line x1="382.00" y1="46.50" x2="389.20" y2="46.50" stroke="#000" stroke-width="1.5" />
<line x1="584.00" y1="46.50" x2="591.00" y2="46.50" stroke="#000" stroke-width="1.5" />
<line x1="382.00" y1="73.10" x2="389.20" y2="73.10" stroke="#000" stroke-width="1.5" />
<line x1="584.00" y1="73.10" x2="591.00" y2="73.10" stroke="#000" stroke-width="1.5" />
<line x1="385.40" y1="33.30" x2="389.20" y2="33.30" stroke="#000" stroke-width="1.5" />
<line x1="587.00" y1="33.30" x2="591.00" y2="33.30" stroke="#000" stroke-width="1.5" />
<line x1="385.40" y1="59.40" x2="389.20" y2="59.40" stroke="#000" stroke-width="1.5" />
<line x1="587.00" y1="59.40" x2="591.00" y2="59.40" stroke="#000" stroke-width="1.5" />
<line x1="382.00" y1="83.70" x2="389.20" y2="83.70" stroke="#000" stroke-width="1.5" />
<line x1="584.00" y1="83.70" x2="591.00" y2="83.70" stroke="#000" stroke-width="1.5" />
<line x1="382.00" y1="107.20" x2="389.20" y2="107.20" stroke="#000" stroke-width="1.5" />
<line x1="584.00" y1="107.20" x2="591.00" y2="107.20" stroke="#000" stroke-width="1.5" />
<line x1="382.00" y1="130.30" x2="389.20" y2="130.30" stroke="#000" stroke-width="1.5" />
<line x1="584.00" y1="130.30" x2="591.00" y2="130.30" stroke="#000" stroke-width="1.5" />
<line x1="385.40" y1="95.50" x2="389.20" y2="95.50" stroke="#000" stroke-width="1.5" />
<line x1="587.00" y1="95.50" x2="591.00" y2="95.50" stroke="#000" stroke-width="1.5" />
<line x1="385.40" y1="118.80" x2="389.20" y2="118.80" stroke="#000" stroke-width="1.5" />
<line x1="587.00" y1="118.80" x2="591.00" y2="118.80" stroke="#000" stroke-width="1.5" />
<line x1="382.00" y1="146.60" x2="389.20" y2="146.60" stroke="#000" stroke-width="1.5" />
<line x1="584.00" y1="146.60" x2="591.00" y2="146.60" stroke="#000" stroke-width="1.5" />
<line x1="382.00" y1="164.20" x2="389.20" y2="164.20" stroke="#000" stroke-width="1.5" />
<line x1="584.00" y1="164.20" x2="591.00" y2="164.20" stroke="#000" stroke-width="1.5" />
<line x1="382.00" y1="181.80" x2="389.20" y2="181.80" stroke="#000" stroke-width="1.5" />
<line x1="584.00" y1="181.80" x2="591.00" y2="181.80" stroke="#000" stroke-width="1.5" />
<line x1="385.40" y1="137.80" x2="389.20" y2="137.80" stroke="#000" stroke-width="1.5" />
<line x1="587.00" y1="137.80" x2="591.00" y2="137.80" stroke="#000" stroke-width="1.5" />
<line x1="385.40" y1="155.40" x2="389.20" y2="155.40" stroke="#000" stroke-width="1.5" />
<line x1="587.00" y1="155.40" x2="591.00" y2="155.40" stroke="#000" stroke-width="1.5" />
<line x1="385.40" y1="173.00" x2="389.20" y2="173.00" stroke="#000" stroke-width="1.5" />
<line x1="587.00" y1="173.00" x2="591.00" y2="173.00" stroke="#000" stroke-width="1.5" />
<line x1="385.40" y1="190.60" x2="389.20" y2="190.60" stroke="#000" stroke-width="1.5" />
<line x1="587.00" y1="190.60" x2="591.00" y2="190.60" stroke="#000" stroke-width="1.5" />
<line x1="382.00" y1="199.50" x2="389.20" y2="199.50" stroke="#000" stroke-width="1.5" />
<line x1="584.00" y1="199.50" x2="591.00" y2="199.50" stroke="#000" stroke-width="1.5" />
<line x1="382.00" y1="227.50" x2="389.20" y2="227.50" stroke="#000" stroke-width="1.5" />
<line x1="584.00" y1="227.50" x2="591.00" y2="227.50" stroke="#000" stroke-width="1.5" />
<line x1="382.00" y1="255.80" x2="389.20" y2="255.80" stroke="#000" stroke-width="1.5" />
<line x1="584.00" y1="255.80" x2="591.00" y2="255.80" stroke="#000" stroke-width="1.5" />
<line x1="385.40" y1="213.20" x2="389.20" y2="213.20" stroke="#000" stroke-width="1.5" />
<line x1="587.00" y1="213.20" x2="591.00" y2="213.20" stroke="#000" stroke-width="1.5" />
<line x1="385.40" y1="242.60" x2="389.20" y2="242.60" stroke="#000" stroke-width="1.5" />
<line x1="587.00" y1="242.60" x2="591.00" y2="242.60" stroke="#000" stroke-width="1.5" />
<line x1="382.00" y1="272.30" x2="389.20" y2="272.30" stroke="#000" stroke-width="1.5" />
<line x1="584.00" y1="272.30" x2="591.00" y2="272.30" stroke="#000" stroke-width="1.5" />
<line x1="382.00" y1="295.00" x2="389.20" y2="295.00" stroke="#000" stroke-width="1.5" />
<line x1="584.00" y1="295.00" x2="591.00" y2="295.00" stroke="#000" stroke-width="1.5" />
<line x1="382.00" y1="316.80" x2="389.20" y2="316.80" stroke="#000" stroke-width="1.5" />
<line x1="584.00" y1="316.80" x2="591.00" y2="316.80" stroke="#000" stroke-width="1.5" />
<line x1="385.40" y1="261.30" x2="389.20" y2="261.30" stroke="#000" stroke-width="1.5" />
<line x1="587.00" y1="261.30" x2="591.00" y2="261.30" stroke="#000" stroke-width="1.5" />
<line x1="385.40" y1="283.70" x2="389.20" y2="283.70" stroke="#000" stroke-width="1.5" />
<line x1="587.00" y1="283.70" x2="591.00" y2="283.70" stroke="#000" stroke-width="1.5" />
<line x1="385.40" y1="305.70" x2="389.20" y2="305.70" stroke="#000" stroke-width="1.5" />
<line x1="587.00" y1="305.70" x2="591.00" y2="305.70" stroke="#000" stroke-width="1.5" />
<text x="377.00" y="24.30" font-family="Liberation Sans, sans-serif" font-size="12.0" font-weight="bold" text-anchor="end" fill="#000" >5</text>
<text x="377.00" y="50.70" font-family="Liberation Sans, sans-serif" font-size="12.0" font-weight="bold" text-anchor="end" fill="#000" >4</text>
<text x="377.00" y="76.40" font-family="Liberation Sans, sans-serif" font-size="12.0" font-weight="bold" text-anchor="end" fill="#000" >3</text>
<text x="377.00" y="87.90" font-family="Liberation Sans, sans-serif" font-size="12.0" font-weight="bold" text-anchor="end" fill="#000" textLength="18.5" lengthAdjust="spacingAndGlyphs" >1,2</text>
<text x="377.00" y="111.40" font-family="Liberation Sans, sans-serif" font-size="12.0" font-weight="bold" text-anchor="end" fill="#000" textLength="19.2" lengthAdjust="spacingAndGlyphs" >0,9</text>
<text x="377.00" y="134.50" font-family="Liberation Sans, sans-serif" font-size="12.0" font-weight="bold" text-anchor="end" fill="#000" textLength="19.2" lengthAdjust="spacingAndGlyphs" >0,6</text>
<text x="377.00" y="150.80" font-family="Liberation Sans, sans-serif" font-size="12.0" font-weight="bold" text-anchor="end" fill="#000" >0</text>
<text x="377.00" y="168.40" font-family="Liberation Sans, sans-serif" font-size="12.0" font-weight="bold" text-anchor="end" fill="#000" >-4</text>
<text x="377.00" y="186.00" font-family="Liberation Sans, sans-serif" font-size="12.0" font-weight="bold" text-anchor="end" fill="#000" >-8</text>
<text x="377.00" y="203.00" font-family="Liberation Sans, sans-serif" font-size="12.0" font-weight="bold" text-anchor="end" fill="#000" textLength="19.2" lengthAdjust="spacingAndGlyphs" >0,6</text>
<text x="377.00" y="231.70" font-family="Liberation Sans, sans-serif" font-size="12.0" font-weight="bold" text-anchor="end" fill="#000" textLength="19.2" lengthAdjust="spacingAndGlyphs" >0,3</text>
<text x="377.00" y="259.70" font-family="Liberation Sans, sans-serif" font-size="12.0" font-weight="bold" text-anchor="end" fill="#000" textLength="19.2" lengthAdjust="spacingAndGlyphs" >0,0</text>
<text x="377.00" y="276.70" font-family="Liberation Sans, sans-serif" font-size="12.0" font-weight="bold" text-anchor="end" fill="#000" textLength="19.2" lengthAdjust="spacingAndGlyphs" >0,8</text>
<text x="377.00" y="299.20" font-family="Liberation Sans, sans-serif" font-size="12.0" font-weight="bold" text-anchor="end" fill="#000" textLength="19.2" lengthAdjust="spacingAndGlyphs" >0,4</text>
<text x="377.00" y="320.70" font-family="Liberation Sans, sans-serif" font-size="12.0" font-weight="bold" text-anchor="end" fill="#000" textLength="19.2" lengthAdjust="spacingAndGlyphs" >0.0</text>
<text x="388.90" y="333.60" font-family="Liberation Sans, sans-serif" font-size="12.4" font-weight="bold" text-anchor="middle" fill="#000" textLength="23.0" lengthAdjust="spacingAndGlyphs" >165</text>
<text x="423.70" y="333.60" font-family="Liberation Sans, sans-serif" font-size="12.4" font-weight="bold" text-anchor="middle" fill="#000" textLength="23.0" lengthAdjust="spacingAndGlyphs" >170</text>
<text x="458.50" y="333.60" font-family="Liberation Sans, sans-serif" font-size="12.4" font-weight="bold" text-anchor="middle" fill="#000" textLength="23.0" lengthAdjust="spacingAndGlyphs" >175</text>
<text x="493.30" y="333.60" font-family="Liberation Sans, sans-serif" font-size="12.4" font-weight="bold" text-anchor="middle" fill="#000" textLength="23.0" lengthAdjust="spacingAndGlyphs" >180</text>
<text x="528.10" y="333.60" font-family="Liberation Sans, sans-serif" font-size="12.4" font-weight="bold" text-anchor="middle" fill="#000" textLength="23.0" lengthAdjust="spacingAndGlyphs" >185</text>
<text x="562.90" y="333.60" font-family="Liberation Sans, sans-serif" font-size="12.4" font-weight="bold" text-anchor="middle" fill="#000" textLength="23.0" lengthAdjust="spacingAndGlyphs" >190</text>
<text x="461.80" y="347.90" font-family="Liberation Sans, sans-serif" font-size="14.0" font-weight="bold" text-anchor="start" fill="#000" textLength="39.5" lengthAdjust="spacingAndGlyphs" >t, ms</text>
<text x="476.90" y="370.80" font-family="Liberation Serif, serif" font-size="16.6" font-weight="normal" text-anchor="start" fill="#000" >b)</text>
<text x="395.20" y="31.90" font-family="Liberation Sans, sans-serif" font-size="15.0" font-weight="bold" text-anchor="start" fill="#000" textLength="55.6" lengthAdjust="spacingAndGlyphs" >#38361</text>
<g transform="translate(345.6,320.5) rotate(-90)"><text x="0" y="0" font-family="Liberation Sans, sans-serif" font-size="17.0" font-weight="bold" fill="#000" textLength="59.5" lengthAdjust="spacingAndGlyphs">A<tspan font-size="11" dy="5">turb</tspan><tspan dy="-5">, a.u.</tspan></text></g>
<g transform="translate(345.6,255.0) rotate(-90)"><text x="0" y="0" font-family="Liberation Sans, sans-serif" font-size="17.0" font-weight="bold" fill="#000" textLength="60.0" lengthAdjust="spacingAndGlyphs"><tspan font-size="14">&#969;</tspan><tspan font-size="10.5" dy="5">E</tspan><tspan dy="-5">, 10</tspan><tspan font-size="11" dy="-7">6</tspan><tspan dy="7"> s</tspan><tspan font-size="11" dy="-7">-1</tspan></text></g>
<g transform="translate(345.6,191.6) rotate(-90)"><text x="0" y="0" font-family="Liberation Sans, sans-serif" font-size="17.0" font-weight="bold" fill="#000" textLength="50.5" lengthAdjust="spacingAndGlyphs">V, km/s</text></g>
<g transform="translate(345.6,132.5) rotate(-90)"><text x="0" y="0" font-family="Liberation Sans, sans-serif" font-size="17.0" font-weight="bold" fill="#000" textLength="125.0" lengthAdjust="spacingAndGlyphs">D<tspan font-size="11" dy="5">&#945;</tspan><tspan dy="-5">, a.u. n</tspan><tspan font-size="11" dy="5">e</tspan><tspan dy="-5">, 10</tspan><tspan font-size="11" dy="-7">19</tspan><tspan dy="7"> m</tspan><tspan font-size="11" dy="-7">-3</tspan></text></g>
</svg>
</body></html>
